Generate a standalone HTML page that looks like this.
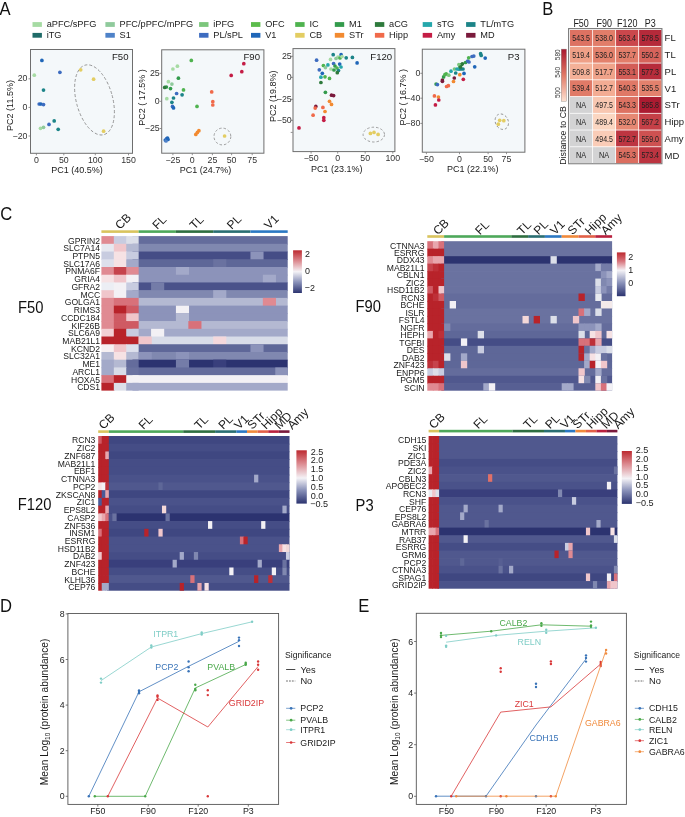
<!DOCTYPE html>
<html><head><meta charset="utf-8"><title>Figure</title>
<style>
html,body{margin:0;padding:0;background:#fff;}
svg{display:block;will-change:transform;}
svg text{font-family:"Liberation Sans", sans-serif;}
</style></head>
<body>
<svg width="685" height="817" viewBox="0 0 685 817" font-family='"Liberation Sans", sans-serif'>
<rect x="0" y="0" width="685" height="817" fill="#ffffff"/>
<text x="0" y="0" font-size="17.5" text-anchor="start" fill="#111" transform="translate(-0.60 14.90) scale(0.95 1)">A</text>
<text x="0" y="0" font-size="17.5" text-anchor="start" fill="#111" transform="translate(542.30 14.90) scale(0.95 1)">B</text>
<text x="0" y="0" font-size="17.5" text-anchor="start" fill="#111" transform="translate(0.20 220.00) scale(0.95 1)">C</text>
<text x="0" y="0" font-size="17.5" text-anchor="start" fill="#111" transform="translate(0.00 611.60) scale(0.95 1)">D</text>
<text x="0" y="0" font-size="17.5" text-anchor="start" fill="#111" transform="translate(358.30 611.60) scale(0.95 1)">E</text>
<rect x="32.50" y="22.10" width="9.40" height="4.80" fill="#a6dba3"/>
<text x="0" y="0" font-size="9.5" text-anchor="start" fill="#1a1a1a" transform="translate(46.70 26.80) scale(0.97 1)">aPFC/sPFG</text>
<rect x="105.40" y="22.10" width="9.40" height="4.80" fill="#8fca9c"/>
<text x="0" y="0" font-size="9.5" text-anchor="start" fill="#1a1a1a" transform="translate(119.60 26.80) scale(0.97 1)">PFC/pPFC/mPFG</text>
<rect x="199.10" y="22.10" width="9.40" height="4.80" fill="#7cc67c"/>
<text x="0" y="0" font-size="9.5" text-anchor="start" fill="#1a1a1a" transform="translate(213.30 26.80) scale(0.97 1)">iPFG</text>
<rect x="251.00" y="22.10" width="9.40" height="4.80" fill="#5cbc4c"/>
<text x="0" y="0" font-size="9.5" text-anchor="start" fill="#1a1a1a" transform="translate(265.20 26.80) scale(0.97 1)">OFC</text>
<rect x="295.20" y="22.10" width="9.40" height="4.80" fill="#4fb34f"/>
<text x="0" y="0" font-size="9.5" text-anchor="start" fill="#1a1a1a" transform="translate(309.40 26.80) scale(0.97 1)">IC</text>
<rect x="334.80" y="22.10" width="9.40" height="4.80" fill="#339b4c"/>
<text x="0" y="0" font-size="9.5" text-anchor="start" fill="#1a1a1a" transform="translate(349.00 26.80) scale(0.97 1)">M1</text>
<rect x="374.90" y="22.10" width="9.40" height="4.80" fill="#2e7a3c"/>
<text x="0" y="0" font-size="9.5" text-anchor="start" fill="#1a1a1a" transform="translate(389.10 26.80) scale(0.97 1)">aCG</text>
<rect x="422.70" y="22.10" width="9.40" height="4.80" fill="#25a7ab"/>
<text x="0" y="0" font-size="9.5" text-anchor="start" fill="#1a1a1a" transform="translate(436.90 26.80) scale(0.97 1)">sTG</text>
<rect x="466.10" y="22.10" width="9.40" height="4.80" fill="#1c8488"/>
<text x="0" y="0" font-size="9.5" text-anchor="start" fill="#1a1a1a" transform="translate(480.30 26.80) scale(0.97 1)">TL/mTG</text>
<rect x="32.50" y="32.90" width="9.40" height="4.80" fill="#1f6b68"/>
<text x="0" y="0" font-size="9.5" text-anchor="start" fill="#1a1a1a" transform="translate(46.70 37.60) scale(0.97 1)">iTG</text>
<rect x="105.40" y="32.90" width="9.40" height="4.80" fill="#4e82c8"/>
<text x="0" y="0" font-size="9.5" text-anchor="start" fill="#1a1a1a" transform="translate(119.60 37.60) scale(0.97 1)">S1</text>
<rect x="199.10" y="32.90" width="9.40" height="4.80" fill="#3d6cc0"/>
<text x="0" y="0" font-size="9.5" text-anchor="start" fill="#1a1a1a" transform="translate(213.30 37.60) scale(0.97 1)">PL/sPL</text>
<rect x="251.00" y="32.90" width="9.40" height="4.80" fill="#1f66b8"/>
<text x="0" y="0" font-size="9.5" text-anchor="start" fill="#1a1a1a" transform="translate(265.20 37.60) scale(0.97 1)">V1</text>
<rect x="295.20" y="32.90" width="9.40" height="4.80" fill="#e3cd62"/>
<text x="0" y="0" font-size="9.5" text-anchor="start" fill="#1a1a1a" transform="translate(309.40 37.60) scale(0.97 1)">CB</text>
<rect x="334.80" y="32.90" width="9.40" height="4.80" fill="#f28a30"/>
<text x="0" y="0" font-size="9.5" text-anchor="start" fill="#1a1a1a" transform="translate(349.00 37.60) scale(0.97 1)">STr</text>
<rect x="374.90" y="32.90" width="9.40" height="4.80" fill="#f06a4a"/>
<text x="0" y="0" font-size="9.5" text-anchor="start" fill="#1a1a1a" transform="translate(389.10 37.60) scale(0.97 1)">Hipp</text>
<rect x="422.70" y="32.90" width="9.40" height="4.80" fill="#c41d45"/>
<text x="0" y="0" font-size="9.5" text-anchor="start" fill="#1a1a1a" transform="translate(436.90 37.60) scale(0.97 1)">Amy</text>
<rect x="466.10" y="32.90" width="9.40" height="4.80" fill="#7a1a3c"/>
<text x="0" y="0" font-size="9.5" text-anchor="start" fill="#1a1a1a" transform="translate(480.30 37.60) scale(0.97 1)">MD</text>
<rect x="30.50" y="49.50" width="102.00" height="103.80" fill="#f4f8fa" stroke="#6e6e6e" stroke-width="1"/>
<text x="128.50" y="59.70" font-size="9.6" text-anchor="end" fill="#1a1a1a">F50</text>
<line x1="36.40" y1="153.30" x2="36.40" y2="155.30" stroke="#777" stroke-width="0.8"/>
<text x="36.40" y="162.80" font-size="8.8" text-anchor="middle" fill="#333">0</text>
<line x1="63.80" y1="153.30" x2="63.80" y2="155.30" stroke="#777" stroke-width="0.8"/>
<text x="63.80" y="162.80" font-size="8.8" text-anchor="middle" fill="#333">50</text>
<line x1="95.30" y1="153.30" x2="95.30" y2="155.30" stroke="#777" stroke-width="0.8"/>
<text x="95.30" y="162.80" font-size="8.8" text-anchor="middle" fill="#333">100</text>
<line x1="128.50" y1="153.30" x2="128.50" y2="155.30" stroke="#777" stroke-width="0.8"/>
<text x="128.50" y="162.80" font-size="8.8" text-anchor="middle" fill="#333">150</text>
<line x1="28.50" y1="78.80" x2="30.50" y2="78.80" stroke="#777" stroke-width="0.8"/>
<text x="27.50" y="81.40" font-size="8.8" text-anchor="end" fill="#333">20</text>
<line x1="28.50" y1="107.40" x2="30.50" y2="107.40" stroke="#777" stroke-width="0.8"/>
<text x="27.50" y="110.00" font-size="8.8" text-anchor="end" fill="#333">0</text>
<line x1="28.50" y1="136.00" x2="30.50" y2="136.00" stroke="#777" stroke-width="0.8"/>
<text x="27.50" y="138.60" font-size="8.8" text-anchor="end" fill="#333">−20</text>
<text x="77.00" y="173.30" font-size="9" text-anchor="middle" fill="#1a1a1a">PC1 (40.5%)</text>
<text x="13.30" y="105.50" font-size="9" text-anchor="middle" fill="#1a1a1a" transform="rotate(-90 13.30 105.50)">PC2 (11.5%)</text>
<ellipse cx="94.5" cy="99.9" rx="18.2" ry="36" fill="none" stroke="#888" stroke-width="0.8" stroke-dasharray="3,2" transform="rotate(-15 94.5 99.9)"/>
<circle cx="41.90" cy="60.40" r="1.85" fill="#1f66b8"/>
<circle cx="59.90" cy="72.30" r="1.85" fill="#3d6cc0"/>
<circle cx="34.30" cy="75.20" r="1.85" fill="#a6dba3"/>
<circle cx="43.50" cy="90.10" r="1.85" fill="#1c8488"/>
<circle cx="39.20" cy="104.00" r="1.85" fill="#3d6cc0"/>
<circle cx="40.90" cy="104.00" r="1.85" fill="#1f66b8"/>
<circle cx="43.50" cy="104.60" r="1.85" fill="#3d6cc0"/>
<circle cx="54.20" cy="120.90" r="1.85" fill="#1c8488"/>
<circle cx="49.00" cy="124.40" r="1.85" fill="#3d6cc0"/>
<circle cx="58.20" cy="129.30" r="1.85" fill="#1c8488"/>
<circle cx="40.50" cy="128.30" r="1.85" fill="#a6dba3"/>
<circle cx="43.50" cy="127.30" r="1.85" fill="#8fca9c"/>
<circle cx="80.70" cy="69.80" r="1.85" fill="#e3cd62"/>
<circle cx="93.60" cy="79.20" r="1.85" fill="#e3cd62"/>
<circle cx="103.60" cy="131.20" r="1.85" fill="#e3cd62"/>
<rect x="161.70" y="49.80" width="102.20" height="103.40" fill="#f4f8fa" stroke="#6e6e6e" stroke-width="1"/>
<text x="260.00" y="59.70" font-size="9.6" text-anchor="end" fill="#1a1a1a">F90</text>
<line x1="172.90" y1="153.20" x2="172.90" y2="155.20" stroke="#777" stroke-width="0.8"/>
<text x="172.90" y="162.70" font-size="8.8" text-anchor="middle" fill="#333">−25</text>
<line x1="192.30" y1="153.20" x2="192.30" y2="155.20" stroke="#777" stroke-width="0.8"/>
<text x="192.30" y="162.70" font-size="8.8" text-anchor="middle" fill="#333">0</text>
<line x1="212.40" y1="153.20" x2="212.40" y2="155.20" stroke="#777" stroke-width="0.8"/>
<text x="212.40" y="162.70" font-size="8.8" text-anchor="middle" fill="#333">25</text>
<line x1="231.60" y1="153.20" x2="231.60" y2="155.20" stroke="#777" stroke-width="0.8"/>
<text x="231.60" y="162.70" font-size="8.8" text-anchor="middle" fill="#333">50</text>
<line x1="252.20" y1="153.20" x2="252.20" y2="155.20" stroke="#777" stroke-width="0.8"/>
<text x="252.20" y="162.70" font-size="8.8" text-anchor="middle" fill="#333">75</text>
<line x1="159.70" y1="73.30" x2="161.70" y2="73.30" stroke="#777" stroke-width="0.8"/>
<text x="159.70" y="75.90" font-size="8.8" text-anchor="end" fill="#333">25</text>
<line x1="159.70" y1="101.30" x2="161.70" y2="101.30" stroke="#777" stroke-width="0.8"/>
<text x="159.70" y="103.90" font-size="8.8" text-anchor="end" fill="#333">0</text>
<line x1="159.70" y1="128.50" x2="161.70" y2="128.50" stroke="#777" stroke-width="0.8"/>
<text x="159.70" y="131.10" font-size="8.8" text-anchor="end" fill="#333">−25</text>
<text x="205.60" y="173.20" font-size="9" text-anchor="middle" fill="#1a1a1a">PC1 (24.7%)</text>
<text x="145.50" y="97.40" font-size="9" text-anchor="middle" fill="#1a1a1a" transform="rotate(-90 145.50 97.40)">PC2 ( 17.5% )</text>
<circle cx="222.4" cy="136.5" r="8.4" fill="none" stroke="#888" stroke-width="0.8" stroke-dasharray="2.5,2"/>
<circle cx="191.30" cy="60.40" r="1.85" fill="#4fb34f"/>
<circle cx="177.40" cy="66.20" r="1.85" fill="#a6dba3"/>
<circle cx="172.90" cy="69.00" r="1.85" fill="#a6dba3"/>
<circle cx="178.40" cy="78.20" r="1.85" fill="#339b4c"/>
<circle cx="168.40" cy="81.70" r="1.85" fill="#a6dba3"/>
<circle cx="171.90" cy="84.10" r="1.85" fill="#8fca9c"/>
<circle cx="166.40" cy="87.00" r="1.85" fill="#339b4c"/>
<circle cx="164.70" cy="87.40" r="1.85" fill="#2e7a3c"/>
<circle cx="170.50" cy="88.60" r="1.85" fill="#339b4c"/>
<circle cx="183.50" cy="89.90" r="1.85" fill="#4fb34f"/>
<circle cx="176.60" cy="93.50" r="1.85" fill="#3d6cc0"/>
<circle cx="182.10" cy="94.80" r="1.85" fill="#1c8488"/>
<circle cx="173.50" cy="98.00" r="1.85" fill="#1c8488"/>
<circle cx="166.80" cy="98.70" r="1.85" fill="#a6dba3"/>
<circle cx="171.90" cy="102.30" r="1.85" fill="#1c8488"/>
<circle cx="172.50" cy="106.40" r="1.85" fill="#3d6cc0"/>
<circle cx="173.50" cy="107.90" r="1.85" fill="#1f66b8"/>
<circle cx="197.00" cy="106.40" r="1.85" fill="#4fb34f"/>
<circle cx="211.70" cy="91.90" r="1.85" fill="#f06a4a"/>
<circle cx="212.80" cy="101.70" r="1.85" fill="#f06a4a"/>
<circle cx="212.80" cy="105.00" r="1.85" fill="#f06a4a"/>
<circle cx="231.20" cy="75.40" r="1.85" fill="#c41d45"/>
<circle cx="241.80" cy="71.70" r="1.85" fill="#c41d45"/>
<circle cx="243.80" cy="63.70" r="1.85" fill="#c41d45"/>
<circle cx="195.80" cy="134.40" r="1.85" fill="#f28a30"/>
<circle cx="197.40" cy="132.40" r="1.85" fill="#f28a30"/>
<circle cx="198.90" cy="130.70" r="1.85" fill="#f28a30"/>
<circle cx="224.60" cy="136.00" r="1.85" fill="#e3cd62"/>
<circle cx="165.30" cy="140.10" r="1.85" fill="#1f66b8"/>
<circle cx="166.70" cy="138.70" r="1.85" fill="#3d6cc0"/>
<circle cx="168.00" cy="139.50" r="1.85" fill="#1f66b8"/>
<circle cx="166.00" cy="141.00" r="1.85" fill="#4e82c8"/>
<circle cx="167.50" cy="138.00" r="1.85" fill="#1f66b8"/>
<rect x="293.00" y="48.60" width="101.90" height="103.00" fill="#f4f8fa" stroke="#6e6e6e" stroke-width="1"/>
<text x="392.20" y="59.70" font-size="9.6" text-anchor="end" fill="#1a1a1a">F120</text>
<line x1="311.10" y1="151.60" x2="311.10" y2="153.60" stroke="#777" stroke-width="0.8"/>
<text x="311.10" y="161.10" font-size="8.8" text-anchor="middle" fill="#333">−50</text>
<line x1="337.70" y1="151.60" x2="337.70" y2="153.60" stroke="#777" stroke-width="0.8"/>
<text x="337.70" y="161.10" font-size="8.8" text-anchor="middle" fill="#333">0</text>
<line x1="365.20" y1="151.60" x2="365.20" y2="153.60" stroke="#777" stroke-width="0.8"/>
<text x="365.20" y="161.10" font-size="8.8" text-anchor="middle" fill="#333">50</text>
<line x1="392.80" y1="151.60" x2="392.80" y2="153.60" stroke="#777" stroke-width="0.8"/>
<text x="392.80" y="161.10" font-size="8.8" text-anchor="middle" fill="#333">100</text>
<line x1="291.00" y1="56.30" x2="293.00" y2="56.30" stroke="#777" stroke-width="0.8"/>
<text x="291.70" y="58.90" font-size="8.8" text-anchor="end" fill="#333">25</text>
<line x1="291.00" y1="77.40" x2="293.00" y2="77.40" stroke="#777" stroke-width="0.8"/>
<text x="291.70" y="80.00" font-size="8.8" text-anchor="end" fill="#333">0</text>
<line x1="291.00" y1="99.30" x2="293.00" y2="99.30" stroke="#777" stroke-width="0.8"/>
<text x="291.70" y="101.90" font-size="8.8" text-anchor="end" fill="#333">−25</text>
<line x1="291.00" y1="120.30" x2="293.00" y2="120.30" stroke="#777" stroke-width="0.8"/>
<text x="291.70" y="122.90" font-size="8.8" text-anchor="end" fill="#333">−50</text>
<text x="336.80" y="171.60" font-size="9" text-anchor="middle" fill="#1a1a1a">PC1 (23.1%)</text>
<text x="276.50" y="96.20" font-size="9" text-anchor="middle" fill="#1a1a1a" transform="rotate(-90 276.50 96.20)">PC2 (19.8%)</text>
<line x1="290.70" y1="132.40" x2="292.70" y2="132.40" stroke="#777" stroke-width="0.8"/>
<ellipse cx="373.8" cy="134.6" rx="10.7" ry="7.4" fill="none" stroke="#888" stroke-width="0.8" stroke-dasharray="2.5,2"/>
<circle cx="333.20" cy="54.70" r="1.85" fill="#1c8488"/>
<circle cx="341.10" cy="54.70" r="1.85" fill="#1f66b8"/>
<circle cx="338.00" cy="57.00" r="1.85" fill="#a6dba3"/>
<circle cx="340.00" cy="58.00" r="1.85" fill="#4fb34f"/>
<circle cx="342.00" cy="56.50" r="1.85" fill="#a6dba3"/>
<circle cx="336.00" cy="58.50" r="1.85" fill="#8fca9c"/>
<circle cx="346.20" cy="57.80" r="1.85" fill="#1c8488"/>
<circle cx="352.40" cy="57.40" r="1.85" fill="#1c8488"/>
<circle cx="316.60" cy="60.20" r="1.85" fill="#3d6cc0"/>
<circle cx="357.10" cy="62.90" r="1.85" fill="#1f66b8"/>
<circle cx="330.50" cy="59.40" r="1.85" fill="#a6dba3"/>
<circle cx="323.40" cy="65.50" r="1.85" fill="#4fb34f"/>
<circle cx="325.40" cy="67.60" r="1.85" fill="#8fca9c"/>
<circle cx="327.90" cy="64.90" r="1.85" fill="#25a7ab"/>
<circle cx="333.60" cy="63.50" r="1.85" fill="#3d6cc0"/>
<circle cx="339.70" cy="64.10" r="1.85" fill="#1f66b8"/>
<circle cx="335.00" cy="66.00" r="1.85" fill="#339b4c"/>
<circle cx="337.00" cy="68.00" r="1.85" fill="#4fb34f"/>
<circle cx="341.00" cy="67.00" r="1.85" fill="#25a7ab"/>
<circle cx="331.00" cy="69.00" r="1.85" fill="#a6dba3"/>
<circle cx="334.00" cy="70.00" r="1.85" fill="#339b4c"/>
<circle cx="338.50" cy="70.50" r="1.85" fill="#1c8488"/>
<circle cx="319.30" cy="69.80" r="1.85" fill="#3d6cc0"/>
<circle cx="322.30" cy="73.30" r="1.85" fill="#1f66b8"/>
<circle cx="320.90" cy="77.20" r="1.85" fill="#25a7ab"/>
<circle cx="325.00" cy="76.80" r="1.85" fill="#4fb34f"/>
<circle cx="329.50" cy="78.40" r="1.85" fill="#4fb34f"/>
<circle cx="320.90" cy="82.50" r="1.85" fill="#2e7a3c"/>
<circle cx="337.30" cy="72.70" r="1.85" fill="#2e7a3c"/>
<circle cx="325.40" cy="92.30" r="1.85" fill="#339b4c"/>
<circle cx="331.50" cy="95.20" r="1.85" fill="#7a1a3c"/>
<circle cx="333.60" cy="95.60" r="1.85" fill="#7a1a3c"/>
<circle cx="329.50" cy="101.30" r="1.85" fill="#f28a30"/>
<circle cx="331.50" cy="104.40" r="1.85" fill="#f28a30"/>
<circle cx="315.80" cy="106.40" r="1.85" fill="#7a1a3c"/>
<circle cx="315.20" cy="108.10" r="1.85" fill="#f06a4a"/>
<circle cx="322.90" cy="107.40" r="1.85" fill="#f06a4a"/>
<circle cx="325.00" cy="111.50" r="1.85" fill="#f28a30"/>
<circle cx="313.10" cy="115.20" r="1.85" fill="#f06a4a"/>
<circle cx="323.80" cy="117.70" r="1.85" fill="#c41d45"/>
<circle cx="323.80" cy="120.30" r="1.85" fill="#c41d45"/>
<circle cx="299.00" cy="127.90" r="1.85" fill="#c41d45"/>
<circle cx="370.40" cy="133.40" r="1.85" fill="#e3cd62"/>
<circle cx="374.00" cy="132.40" r="1.85" fill="#e3cd62"/>
<circle cx="378.10" cy="134.40" r="1.85" fill="#e3cd62"/>
<rect x="422.30" y="49.20" width="102.60" height="103.00" fill="#f4f8fa" stroke="#6e6e6e" stroke-width="1"/>
<text x="519.50" y="59.70" font-size="9.6" text-anchor="end" fill="#1a1a1a">P3</text>
<line x1="426.40" y1="152.20" x2="426.40" y2="154.20" stroke="#777" stroke-width="0.8"/>
<text x="426.40" y="161.70" font-size="8.8" text-anchor="middle" fill="#333">−50</text>
<line x1="459.50" y1="152.20" x2="459.50" y2="154.20" stroke="#777" stroke-width="0.8"/>
<text x="459.50" y="161.70" font-size="8.8" text-anchor="middle" fill="#333">0</text>
<line x1="488.10" y1="152.20" x2="488.10" y2="154.20" stroke="#777" stroke-width="0.8"/>
<text x="488.10" y="161.70" font-size="8.8" text-anchor="middle" fill="#333">50</text>
<line x1="506.50" y1="152.20" x2="506.50" y2="154.20" stroke="#777" stroke-width="0.8"/>
<text x="506.50" y="161.70" font-size="8.8" text-anchor="middle" fill="#333">75</text>
<line x1="420.30" y1="73.30" x2="422.30" y2="73.30" stroke="#777" stroke-width="0.8"/>
<text x="420.30" y="75.90" font-size="8.8" text-anchor="end" fill="#333">0</text>
<line x1="420.30" y1="98.20" x2="422.30" y2="98.20" stroke="#777" stroke-width="0.8"/>
<text x="420.30" y="100.80" font-size="8.8" text-anchor="end" fill="#333">−40</text>
<line x1="420.30" y1="123.40" x2="422.30" y2="123.40" stroke="#777" stroke-width="0.8"/>
<text x="420.30" y="126.00" font-size="8.8" text-anchor="end" fill="#333">−80</text>
<text x="472.70" y="172.20" font-size="9" text-anchor="middle" fill="#1a1a1a">PC1 (22.1%)</text>
<text x="406.50" y="97.20" font-size="9" text-anchor="middle" fill="#1a1a1a" transform="rotate(-90 406.50 97.20)">PC2 ( 16.7% )</text>
<ellipse cx="501.8" cy="121.7" rx="6.4" ry="8" fill="none" stroke="#888" stroke-width="0.8" stroke-dasharray="2.5,2" transform="rotate(-25 501.8 121.7)"/>
<circle cx="436.10" cy="84.10" r="1.85" fill="#339b4c"/>
<circle cx="437.40" cy="84.60" r="1.85" fill="#3d6cc0"/>
<circle cx="442.40" cy="80.00" r="1.85" fill="#7a1a3c"/>
<circle cx="442.40" cy="81.30" r="1.85" fill="#7a1a3c"/>
<circle cx="443.60" cy="76.90" r="1.85" fill="#339b4c"/>
<circle cx="444.90" cy="74.70" r="1.85" fill="#4fb34f"/>
<circle cx="446.20" cy="73.80" r="1.85" fill="#4fb34f"/>
<circle cx="448.80" cy="75.20" r="1.85" fill="#7cc67c"/>
<circle cx="446.60" cy="86.50" r="1.85" fill="#f06a4a"/>
<circle cx="448.40" cy="85.70" r="1.85" fill="#f06a4a"/>
<circle cx="451.00" cy="71.20" r="1.85" fill="#25a7ab"/>
<circle cx="454.30" cy="78.00" r="1.85" fill="#7a1a3c"/>
<circle cx="453.50" cy="81.50" r="1.85" fill="#f28a30"/>
<circle cx="455.70" cy="73.00" r="1.85" fill="#1c8488"/>
<circle cx="454.50" cy="69.00" r="1.85" fill="#7cc67c"/>
<circle cx="457.00" cy="69.00" r="1.85" fill="#25a7ab"/>
<circle cx="459.00" cy="69.20" r="1.85" fill="#25a7ab"/>
<circle cx="461.00" cy="69.00" r="1.85" fill="#1c8488"/>
<circle cx="463.00" cy="69.00" r="1.85" fill="#1c8488"/>
<circle cx="459.80" cy="74.70" r="1.85" fill="#f28a30"/>
<circle cx="464.00" cy="73.40" r="1.85" fill="#1f66b8"/>
<circle cx="463.30" cy="79.30" r="1.85" fill="#c41d45"/>
<circle cx="460.00" cy="66.50" r="1.85" fill="#339b4c"/>
<circle cx="461.50" cy="64.50" r="1.85" fill="#2e7a3c"/>
<circle cx="462.40" cy="63.80" r="1.85" fill="#2e7a3c"/>
<circle cx="458.90" cy="64.60" r="1.85" fill="#7cc67c"/>
<circle cx="460.50" cy="67.00" r="1.85" fill="#2e7a3c"/>
<circle cx="465.50" cy="62.50" r="1.85" fill="#339b4c"/>
<circle cx="467.70" cy="61.10" r="1.85" fill="#3d6cc0"/>
<circle cx="469.00" cy="62.00" r="1.85" fill="#3d6cc0"/>
<circle cx="468.70" cy="57.80" r="1.85" fill="#4fb34f"/>
<circle cx="472.00" cy="56.50" r="1.85" fill="#3d6cc0"/>
<circle cx="473.80" cy="56.10" r="1.85" fill="#3d6cc0"/>
<circle cx="474.70" cy="66.80" r="1.85" fill="#1f66b8"/>
<circle cx="480.60" cy="53.70" r="1.85" fill="#1c8488"/>
<circle cx="481.20" cy="55.40" r="1.85" fill="#1c8488"/>
<circle cx="485.20" cy="58.10" r="1.85" fill="#1f66b8"/>
<circle cx="434.40" cy="95.90" r="1.85" fill="#f06a4a"/>
<circle cx="438.40" cy="97.00" r="1.85" fill="#f28a30"/>
<circle cx="438.80" cy="100.00" r="1.85" fill="#c41d45"/>
<circle cx="435.40" cy="104.90" r="1.85" fill="#c41d45"/>
<circle cx="499.70" cy="120.30" r="1.85" fill="#e3cd62"/>
<circle cx="503.80" cy="120.70" r="1.85" fill="#e3cd62"/>
<circle cx="498.30" cy="124.20" r="1.85" fill="#e3cd62"/>
<rect x="568.60" y="28.60" width="93.32" height="135.12" fill="#ffffff" stroke="#7a7a7a" stroke-width="1.1"/>
<rect x="570.00" y="30.00" width="22.23" height="15.94" fill="#dd7262"/>
<text x="0" y="0" font-size="9.0" text-anchor="middle" fill="#222" transform="translate(581.12 41.17) scale(0.78 1)">543.5</text>
<rect x="593.03" y="30.00" width="22.23" height="15.94" fill="#e17d69"/>
<text x="0" y="0" font-size="9.0" text-anchor="middle" fill="#222" transform="translate(604.14 41.17) scale(0.78 1)">538.0</text>
<rect x="616.06" y="30.00" width="22.23" height="15.94" fill="#ca474c"/>
<text x="0" y="0" font-size="9.0" text-anchor="middle" fill="#222" transform="translate(627.18 41.17) scale(0.78 1)">563.4</text>
<rect x="639.09" y="30.00" width="22.23" height="15.94" fill="#b52a3a"/>
<text x="0" y="0" font-size="9.0" text-anchor="middle" fill="#222" transform="translate(650.21 41.17) scale(0.78 1)">578.5</text>
<rect x="570.00" y="46.74" width="22.23" height="15.94" fill="#efa087"/>
<text x="0" y="0" font-size="9.0" text-anchor="middle" fill="#222" transform="translate(581.12 57.91) scale(0.78 1)">519.4</text>
<rect x="593.03" y="46.74" width="22.23" height="15.94" fill="#e3816c"/>
<text x="0" y="0" font-size="9.0" text-anchor="middle" fill="#222" transform="translate(604.14 57.91) scale(0.78 1)">536.0</text>
<rect x="616.06" y="46.74" width="22.23" height="15.94" fill="#e27d6a"/>
<text x="0" y="0" font-size="9.0" text-anchor="middle" fill="#222" transform="translate(627.18 57.91) scale(0.78 1)">537.7</text>
<rect x="639.09" y="46.74" width="22.23" height="15.94" fill="#d6635b"/>
<text x="0" y="0" font-size="9.0" text-anchor="middle" fill="#222" transform="translate(650.21 57.91) scale(0.78 1)">550.2</text>
<rect x="570.00" y="63.48" width="22.23" height="15.94" fill="#f4b198"/>
<text x="0" y="0" font-size="9.0" text-anchor="middle" fill="#222" transform="translate(581.12 74.65) scale(0.78 1)">509.8</text>
<rect x="593.03" y="63.48" width="22.23" height="15.94" fill="#f0a38a"/>
<text x="0" y="0" font-size="9.0" text-anchor="middle" fill="#222" transform="translate(604.14 74.65) scale(0.78 1)">517.7</text>
<rect x="616.06" y="63.48" width="22.23" height="15.94" fill="#d35d57"/>
<text x="0" y="0" font-size="9.0" text-anchor="middle" fill="#222" transform="translate(627.18 74.65) scale(0.78 1)">553.1</text>
<rect x="639.09" y="63.48" width="22.23" height="15.94" fill="#b72c3b"/>
<text x="0" y="0" font-size="9.0" text-anchor="middle" fill="#222" transform="translate(650.21 74.65) scale(0.78 1)">577.3</text>
<rect x="570.00" y="80.22" width="22.23" height="15.94" fill="#e07a67"/>
<text x="0" y="0" font-size="9.0" text-anchor="middle" fill="#222" transform="translate(581.12 91.39) scale(0.78 1)">539.4</text>
<rect x="593.03" y="80.22" width="22.23" height="15.94" fill="#f3ac93"/>
<text x="0" y="0" font-size="9.0" text-anchor="middle" fill="#222" transform="translate(604.14 91.39) scale(0.78 1)">512.7</text>
<rect x="616.06" y="80.22" width="22.23" height="15.94" fill="#e07866"/>
<text x="0" y="0" font-size="9.0" text-anchor="middle" fill="#222" transform="translate(627.18 91.39) scale(0.78 1)">540.3</text>
<rect x="639.09" y="80.22" width="22.23" height="15.94" fill="#e3816d"/>
<text x="0" y="0" font-size="9.0" text-anchor="middle" fill="#222" transform="translate(650.21 91.39) scale(0.78 1)">535.5</text>
<rect x="570.00" y="96.96" width="22.23" height="15.94" fill="#d3d3d4"/>
<text x="0" y="0" font-size="8.6" text-anchor="middle" fill="#222" transform="translate(581.12 108.13) scale(0.85 1)">NA</text>
<rect x="593.03" y="96.96" width="22.23" height="15.94" fill="#f8c7b1"/>
<text x="0" y="0" font-size="9.0" text-anchor="middle" fill="#222" transform="translate(604.14 108.13) scale(0.78 1)">497.5</text>
<rect x="616.06" y="96.96" width="22.23" height="15.94" fill="#dd7262"/>
<text x="0" y="0" font-size="9.0" text-anchor="middle" fill="#222" transform="translate(627.18 108.13) scale(0.78 1)">543.3</text>
<rect x="639.09" y="96.96" width="22.23" height="15.94" fill="#ab1b31"/>
<text x="0" y="0" font-size="9.0" text-anchor="middle" fill="#222" transform="translate(650.21 108.13) scale(0.78 1)">585.8</text>
<rect x="570.00" y="113.70" width="22.23" height="15.94" fill="#d3d3d4"/>
<text x="0" y="0" font-size="8.6" text-anchor="middle" fill="#222" transform="translate(581.12 124.87) scale(0.85 1)">NA</text>
<rect x="593.03" y="113.70" width="22.23" height="15.94" fill="#fbd6c1"/>
<text x="0" y="0" font-size="9.0" text-anchor="middle" fill="#222" transform="translate(604.14 124.87) scale(0.78 1)">489.4</text>
<rect x="616.06" y="113.70" width="22.23" height="15.94" fill="#e68873"/>
<text x="0" y="0" font-size="9.0" text-anchor="middle" fill="#222" transform="translate(627.18 124.87) scale(0.78 1)">532.0</text>
<rect x="639.09" y="113.70" width="22.23" height="15.94" fill="#c54047"/>
<text x="0" y="0" font-size="9.0" text-anchor="middle" fill="#222" transform="translate(650.21 124.87) scale(0.78 1)">567.2</text>
<rect x="570.00" y="130.44" width="22.23" height="15.94" fill="#d3d3d4"/>
<text x="0" y="0" font-size="8.6" text-anchor="middle" fill="#222" transform="translate(581.12 141.61) scale(0.85 1)">NA</text>
<rect x="593.03" y="130.44" width="22.23" height="15.94" fill="#faccb7"/>
<text x="0" y="0" font-size="9.0" text-anchor="middle" fill="#222" transform="translate(604.14 141.61) scale(0.78 1)">494.5</text>
<rect x="616.06" y="130.44" width="22.23" height="15.94" fill="#bd3541"/>
<text x="0" y="0" font-size="9.0" text-anchor="middle" fill="#222" transform="translate(627.18 141.61) scale(0.78 1)">572.7</text>
<rect x="639.09" y="130.44" width="22.23" height="15.94" fill="#ce5151"/>
<text x="0" y="0" font-size="9.0" text-anchor="middle" fill="#222" transform="translate(650.21 141.61) scale(0.78 1)">559.0</text>
<rect x="570.00" y="147.18" width="22.23" height="15.94" fill="#d3d3d4"/>
<text x="0" y="0" font-size="8.6" text-anchor="middle" fill="#222" transform="translate(581.12 158.35) scale(0.85 1)">NA</text>
<rect x="593.03" y="147.18" width="22.23" height="15.94" fill="#d3d3d4"/>
<text x="0" y="0" font-size="8.6" text-anchor="middle" fill="#222" transform="translate(604.14 158.35) scale(0.85 1)">NA</text>
<rect x="616.06" y="147.18" width="22.23" height="15.94" fill="#db6e60"/>
<text x="0" y="0" font-size="9.0" text-anchor="middle" fill="#222" transform="translate(627.18 158.35) scale(0.78 1)">545.3</text>
<rect x="639.09" y="147.18" width="22.23" height="15.94" fill="#bc3440"/>
<text x="0" y="0" font-size="9.0" text-anchor="middle" fill="#222" transform="translate(650.21 158.35) scale(0.78 1)">573.4</text>
<text x="0" y="0" font-size="10.2" text-anchor="middle" fill="#1a1a1a" transform="translate(581.12 26.80) scale(0.88 1)">F50</text>
<text x="0" y="0" font-size="10.2" text-anchor="middle" fill="#1a1a1a" transform="translate(604.14 26.80) scale(0.88 1)">F90</text>
<text x="0" y="0" font-size="10.2" text-anchor="middle" fill="#1a1a1a" transform="translate(627.18 26.80) scale(0.88 1)">F120</text>
<text x="0" y="0" font-size="10.2" text-anchor="middle" fill="#1a1a1a" transform="translate(650.21 26.80) scale(0.88 1)">P3</text>
<text x="664.60" y="41.37" font-size="9.5" text-anchor="start" fill="#1a1a1a">FL</text>
<text x="664.60" y="58.11" font-size="9.5" text-anchor="start" fill="#1a1a1a">TL</text>
<text x="664.60" y="74.85" font-size="9.5" text-anchor="start" fill="#1a1a1a">PL</text>
<text x="664.60" y="91.59" font-size="9.5" text-anchor="start" fill="#1a1a1a">V1</text>
<text x="664.60" y="108.33" font-size="9.5" text-anchor="start" fill="#1a1a1a">STr</text>
<text x="664.60" y="125.07" font-size="9.5" text-anchor="start" fill="#1a1a1a">Hipp</text>
<text x="664.60" y="141.81" font-size="9.5" text-anchor="start" fill="#1a1a1a">Amy</text>
<text x="664.60" y="158.55" font-size="9.5" text-anchor="start" fill="#1a1a1a">MD</text>
<defs><linearGradient id="gB" x1="0" y1="0" x2="0" y2="1"><stop offset="0" stop-color="#a8172e"/><stop offset="0.5" stop-color="#e07966"/><stop offset="1" stop-color="#fde0d0"/></linearGradient></defs>
<rect x="561.20" y="49.10" width="5.30" height="52.30" fill="url(#gB)" stroke="#8a8a8a" stroke-width="0.4"/>
<text x="559.70" y="54.80" font-size="6.5" text-anchor="middle" fill="#333" transform="rotate(-90 559.70 54.80)">580</text>
<line x1="560.20" y1="54.80" x2="561.20" y2="54.80" stroke="#666" stroke-width="0.5"/>
<text x="559.70" y="72.40" font-size="6.5" text-anchor="middle" fill="#333" transform="rotate(-90 559.70 72.40)">540</text>
<line x1="560.20" y1="72.40" x2="561.20" y2="72.40" stroke="#666" stroke-width="0.5"/>
<text x="559.70" y="92.60" font-size="6.5" text-anchor="middle" fill="#333" transform="rotate(-90 559.70 92.60)">500</text>
<line x1="560.20" y1="92.60" x2="561.20" y2="92.60" stroke="#666" stroke-width="0.5"/>
<text x="565.60" y="135.40" font-size="8.8" text-anchor="middle" fill="#1a1a1a" transform="rotate(-90 565.60 135.40)">Distance to CB</text>
<rect x="132.45" y="236.10" width="155.25" height="8.43" fill="#646c9c"/>
<rect x="101.40" y="236.10" width="13.12" height="8.43" fill="#e08a92"/>
<rect x="113.82" y="236.10" width="13.12" height="8.43" fill="#c8cce0"/>
<rect x="126.24" y="236.10" width="12.42" height="8.43" fill="#dcdfe9"/>
<rect x="132.45" y="243.82" width="155.25" height="8.43" fill="#8088b0"/>
<rect x="101.40" y="243.82" width="13.12" height="8.43" fill="#e6e8f0"/>
<rect x="113.82" y="243.82" width="13.12" height="8.43" fill="#f0c6cb"/>
<rect x="126.24" y="243.82" width="12.42" height="8.43" fill="#b4b9d2"/>
<rect x="132.45" y="251.55" width="155.25" height="8.43" fill="#454d86"/>
<rect x="101.40" y="251.55" width="13.12" height="8.43" fill="#c8cce0"/>
<rect x="113.82" y="251.55" width="13.12" height="8.43" fill="#f6e2e4"/>
<rect x="126.24" y="251.55" width="12.42" height="8.43" fill="#c8cce0"/>
<rect x="250.44" y="251.55" width="13.12" height="8.43" fill="#8c93ba"/>
<rect x="132.45" y="259.27" width="155.25" height="8.43" fill="#5e6798"/>
<rect x="101.40" y="259.27" width="13.12" height="8.43" fill="#dde0ec"/>
<rect x="113.82" y="259.27" width="13.12" height="8.43" fill="#f6e2e4"/>
<rect x="126.24" y="259.27" width="12.42" height="8.43" fill="#a3a9c9"/>
<rect x="213.18" y="259.27" width="13.12" height="8.43" fill="#6a72a0"/>
<rect x="132.45" y="267.00" width="155.25" height="8.43" fill="#8c93ba"/>
<rect x="101.40" y="267.00" width="13.12" height="8.43" fill="#e08a92"/>
<rect x="113.82" y="267.00" width="13.12" height="8.43" fill="#c6434c"/>
<rect x="126.24" y="267.00" width="12.42" height="8.43" fill="#e08a92"/>
<rect x="175.92" y="267.00" width="13.12" height="8.43" fill="#a3a9c9"/>
<rect x="132.45" y="274.73" width="155.25" height="8.43" fill="#8c93ba"/>
<rect x="101.40" y="274.73" width="13.12" height="8.43" fill="#f6e2e4"/>
<rect x="113.82" y="274.73" width="13.12" height="8.43" fill="#f0c6cb"/>
<rect x="126.24" y="274.73" width="12.42" height="8.43" fill="#f3f1f5"/>
<rect x="262.86" y="274.73" width="13.12" height="8.43" fill="#a3a9c9"/>
<rect x="132.45" y="282.45" width="155.25" height="8.43" fill="#4a528a"/>
<rect x="101.40" y="282.45" width="13.12" height="8.43" fill="#eceef4"/>
<rect x="113.82" y="282.45" width="13.12" height="8.43" fill="#f3f1f5"/>
<rect x="126.24" y="282.45" width="12.42" height="8.43" fill="#c8cce0"/>
<rect x="151.08" y="282.45" width="13.12" height="8.43" fill="#747ca8"/>
<rect x="132.45" y="290.18" width="155.25" height="8.43" fill="#8088b0"/>
<rect x="101.40" y="290.18" width="13.12" height="8.43" fill="#f0c6cb"/>
<rect x="113.82" y="290.18" width="13.12" height="8.43" fill="#f3f1f5"/>
<rect x="126.24" y="290.18" width="12.42" height="8.43" fill="#a3a9c9"/>
<rect x="213.18" y="290.18" width="13.12" height="8.43" fill="#a3a9c9"/>
<rect x="132.45" y="297.90" width="155.25" height="8.43" fill="#b4b9d2"/>
<rect x="101.40" y="297.90" width="13.12" height="8.43" fill="#e08a92"/>
<rect x="113.82" y="297.90" width="13.12" height="8.43" fill="#d8717a"/>
<rect x="126.24" y="297.90" width="12.42" height="8.43" fill="#d8717a"/>
<rect x="262.86" y="297.90" width="13.12" height="8.43" fill="#e08a92"/>
<rect x="132.45" y="305.62" width="155.25" height="8.43" fill="#8c93ba"/>
<rect x="101.40" y="305.62" width="13.12" height="8.43" fill="#e08a92"/>
<rect x="113.82" y="305.62" width="13.12" height="8.43" fill="#b8232a"/>
<rect x="126.24" y="305.62" width="12.42" height="8.43" fill="#cf5a63"/>
<rect x="175.92" y="305.62" width="13.12" height="8.43" fill="#f3f1f5"/>
<rect x="132.45" y="313.35" width="155.25" height="8.43" fill="#8c93ba"/>
<rect x="101.40" y="313.35" width="13.12" height="8.43" fill="#e08a92"/>
<rect x="113.82" y="313.35" width="13.12" height="8.43" fill="#cf5a63"/>
<rect x="126.24" y="313.35" width="12.42" height="8.43" fill="#f0c6cb"/>
<rect x="175.92" y="313.35" width="13.12" height="8.43" fill="#b4b9d2"/>
<rect x="132.45" y="321.08" width="155.25" height="8.43" fill="#b4b9d2"/>
<rect x="101.40" y="321.08" width="13.12" height="8.43" fill="#e08a92"/>
<rect x="113.82" y="321.08" width="13.12" height="8.43" fill="#cf5a63"/>
<rect x="126.24" y="321.08" width="12.42" height="8.43" fill="#cf5a63"/>
<rect x="188.34" y="321.08" width="13.12" height="8.43" fill="#d8717a"/>
<rect x="132.45" y="328.80" width="155.25" height="8.43" fill="#a3a9c9"/>
<rect x="101.40" y="328.80" width="13.12" height="8.43" fill="#f2d0d4"/>
<rect x="113.82" y="328.80" width="13.12" height="8.43" fill="#b8232a"/>
<rect x="126.24" y="328.80" width="12.42" height="8.43" fill="#c8cce0"/>
<rect x="151.08" y="328.80" width="13.12" height="8.43" fill="#f3f1f5"/>
<rect x="132.45" y="336.52" width="155.25" height="8.43" fill="#d8dce8"/>
<rect x="101.40" y="336.52" width="13.12" height="8.43" fill="#b8232a"/>
<rect x="113.82" y="336.52" width="13.12" height="8.43" fill="#b8232a"/>
<rect x="126.24" y="336.52" width="12.42" height="8.43" fill="#b8232a"/>
<rect x="138.66" y="336.52" width="13.12" height="8.43" fill="#f0c6cb"/>
<rect x="213.18" y="336.52" width="13.12" height="8.43" fill="#f4d8dc"/>
<rect x="132.45" y="344.25" width="155.25" height="8.43" fill="#5e6798"/>
<rect x="101.40" y="344.25" width="13.12" height="8.43" fill="#f6f0f2"/>
<rect x="113.82" y="344.25" width="13.12" height="8.43" fill="#f0c6cb"/>
<rect x="126.24" y="344.25" width="12.42" height="8.43" fill="#dde0ec"/>
<rect x="250.44" y="344.25" width="13.12" height="8.43" fill="#8c93ba"/>
<rect x="132.45" y="351.98" width="155.25" height="8.43" fill="#8088b0"/>
<rect x="101.40" y="351.98" width="13.12" height="8.43" fill="#b4b9d2"/>
<rect x="113.82" y="351.98" width="13.12" height="8.43" fill="#f6e2e4"/>
<rect x="126.24" y="351.98" width="12.42" height="8.43" fill="#b4b9d2"/>
<rect x="138.66" y="351.98" width="13.12" height="8.43" fill="#8c93ba"/>
<rect x="175.92" y="351.98" width="13.12" height="8.43" fill="#8c93ba"/>
<rect x="132.45" y="359.70" width="155.25" height="8.43" fill="#2c3370"/>
<rect x="101.40" y="359.70" width="13.12" height="8.43" fill="#a3a9c9"/>
<rect x="113.82" y="359.70" width="13.12" height="8.43" fill="#b4b9d2"/>
<rect x="126.24" y="359.70" width="12.42" height="8.43" fill="#646c9c"/>
<rect x="175.92" y="359.70" width="13.12" height="8.43" fill="#747ca8"/>
<rect x="213.18" y="359.70" width="13.12" height="8.43" fill="#393f7c"/>
<rect x="132.45" y="367.43" width="155.25" height="8.43" fill="#646c9c"/>
<rect x="101.40" y="367.43" width="13.12" height="8.43" fill="#a3a9c9"/>
<rect x="113.82" y="367.43" width="13.12" height="8.43" fill="#d8dce8"/>
<rect x="126.24" y="367.43" width="12.42" height="8.43" fill="#6a72a0"/>
<rect x="275.28" y="367.43" width="12.42" height="8.43" fill="#8c93ba"/>
<rect x="132.45" y="375.15" width="155.25" height="8.43" fill="#f3f1f5"/>
<rect x="101.40" y="375.15" width="13.12" height="8.43" fill="#d8717a"/>
<rect x="113.82" y="375.15" width="13.12" height="8.43" fill="#b8232a"/>
<rect x="126.24" y="375.15" width="12.42" height="8.43" fill="#f3f1f5"/>
<rect x="132.45" y="382.88" width="155.25" height="7.73" fill="#a3a9c9"/>
<rect x="101.40" y="382.88" width="13.12" height="7.73" fill="#b8232a"/>
<rect x="113.82" y="382.88" width="13.12" height="7.73" fill="#dcdfe9"/>
<rect x="126.24" y="382.88" width="12.42" height="7.73" fill="#a3a9c9"/>
<text x="100.10" y="243.56" font-size="8.6" text-anchor="end" fill="#1a1a1a">GPRIN2</text>
<text x="100.10" y="251.29" font-size="8.6" text-anchor="end" fill="#1a1a1a">SLC7A14</text>
<text x="100.10" y="259.01" font-size="8.6" text-anchor="end" fill="#1a1a1a">PTPN5</text>
<text x="100.10" y="266.74" font-size="8.6" text-anchor="end" fill="#1a1a1a">SLC17A6</text>
<text x="100.10" y="274.46" font-size="8.6" text-anchor="end" fill="#1a1a1a">PNMA6F</text>
<text x="100.10" y="282.19" font-size="8.6" text-anchor="end" fill="#1a1a1a">GRIA4</text>
<text x="100.10" y="289.91" font-size="8.6" text-anchor="end" fill="#1a1a1a">GFRA2</text>
<text x="100.10" y="297.64" font-size="8.6" text-anchor="end" fill="#1a1a1a">MCC</text>
<text x="100.10" y="305.36" font-size="8.6" text-anchor="end" fill="#1a1a1a">GOLGA1</text>
<text x="100.10" y="313.09" font-size="8.6" text-anchor="end" fill="#1a1a1a">RIMS3</text>
<text x="100.10" y="320.81" font-size="8.6" text-anchor="end" fill="#1a1a1a">CCDC184</text>
<text x="100.10" y="328.54" font-size="8.6" text-anchor="end" fill="#1a1a1a">KIF26B</text>
<text x="100.10" y="336.26" font-size="8.6" text-anchor="end" fill="#1a1a1a">SLC6A9</text>
<text x="100.10" y="343.99" font-size="8.6" text-anchor="end" fill="#1a1a1a">MAB21L1</text>
<text x="100.10" y="351.71" font-size="8.6" text-anchor="end" fill="#1a1a1a">KCND2</text>
<text x="100.10" y="359.44" font-size="8.6" text-anchor="end" fill="#1a1a1a">SLC32A1</text>
<text x="100.10" y="367.16" font-size="8.6" text-anchor="end" fill="#1a1a1a">ME1</text>
<text x="100.10" y="374.89" font-size="8.6" text-anchor="end" fill="#1a1a1a">ARCL1</text>
<text x="100.10" y="382.61" font-size="8.6" text-anchor="end" fill="#1a1a1a">HOXA5</text>
<text x="100.10" y="390.34" font-size="8.6" text-anchor="end" fill="#1a1a1a">CDS1</text>
<rect x="101.40" y="230.30" width="37.26" height="2.60" fill="#d9c45e"/>
<rect x="138.66" y="230.30" width="37.26" height="2.60" fill="#4ea85a"/>
<rect x="175.92" y="230.30" width="37.26" height="2.60" fill="#2e6e40"/>
<rect x="213.18" y="230.30" width="37.26" height="2.60" fill="#2a6e72"/>
<rect x="250.44" y="230.30" width="37.26" height="2.60" fill="#2b78c3"/>
<text x="120.03" y="230.10" font-size="12.0" text-anchor="start" fill="#1a1a1a" transform="rotate(-45 120.03 230.10)">CB</text>
<text x="157.29" y="230.10" font-size="12.0" text-anchor="start" fill="#1a1a1a" transform="rotate(-45 157.29 230.10)">FL</text>
<text x="194.55" y="230.10" font-size="12.0" text-anchor="start" fill="#1a1a1a" transform="rotate(-45 194.55 230.10)">TL</text>
<text x="231.81" y="230.10" font-size="12.0" text-anchor="start" fill="#1a1a1a" transform="rotate(-45 231.81 230.10)">PL</text>
<text x="269.07" y="230.10" font-size="12.0" text-anchor="start" fill="#1a1a1a" transform="rotate(-45 269.07 230.10)">V1</text>
<text x="0" y="0" font-size="15.6" text-anchor="start" fill="#111" transform="translate(18.00 312.70) scale(0.946 1)">F50</text>
<defs><linearGradient id="g50" x1="0" y1="0" x2="0" y2="1"><stop offset="0" stop-color="#bd2a30"/><stop offset="0.25" stop-color="#dc8a90"/><stop offset="0.5" stop-color="#f4f2f6"/><stop offset="0.75" stop-color="#8890b8"/><stop offset="1" stop-color="#2c3470"/></linearGradient></defs>
<rect x="293.10" y="250.30" width="8.80" height="42.70" fill="url(#g50)"/>
<text x="0" y="0" font-size="9.4" text-anchor="start" fill="#222" transform="translate(305.00 256.60) scale(0.95 1)">2</text>
<text x="0" y="0" font-size="9.4" text-anchor="start" fill="#222" transform="translate(305.00 273.60) scale(0.95 1)">0</text>
<text x="0" y="0" font-size="9.4" text-anchor="start" fill="#222" transform="translate(304.80 291.00) scale(0.95 1)">−2</text>
<rect x="441.30" y="241.20" width="170.80" height="8.17" fill="#6a72a0"/>
<rect x="427.30" y="241.20" width="6.30" height="8.17" fill="#d8717a"/>
<rect x="432.90" y="241.20" width="6.30" height="8.17" fill="#e8a6ad"/>
<rect x="438.50" y="241.20" width="5.60" height="8.17" fill="#d8717a"/>
<rect x="441.30" y="248.67" width="170.80" height="8.17" fill="#6a72a0"/>
<rect x="427.30" y="248.67" width="6.30" height="8.17" fill="#b8232a"/>
<rect x="432.90" y="248.67" width="6.30" height="8.17" fill="#b8232a"/>
<rect x="438.50" y="248.67" width="5.60" height="8.17" fill="#b8232a"/>
<rect x="441.30" y="256.15" width="170.80" height="8.17" fill="#2c3370"/>
<rect x="427.30" y="256.15" width="6.30" height="8.17" fill="#e08a92"/>
<rect x="432.90" y="256.15" width="6.30" height="8.17" fill="#e8a6ad"/>
<rect x="438.50" y="256.15" width="5.60" height="8.17" fill="#e8a6ad"/>
<rect x="550.50" y="256.15" width="6.30" height="8.17" fill="#dcdfe9"/>
<rect x="441.30" y="263.62" width="170.80" height="8.17" fill="#6a72a0"/>
<rect x="427.30" y="263.62" width="6.30" height="8.17" fill="#c6434c"/>
<rect x="432.90" y="263.62" width="6.30" height="8.17" fill="#be3038"/>
<rect x="438.50" y="263.62" width="5.60" height="8.17" fill="#b8232a"/>
<rect x="595.30" y="263.62" width="6.30" height="8.17" fill="#a3a9c9"/>
<rect x="600.90" y="263.62" width="6.30" height="8.17" fill="#747ca8"/>
<rect x="606.50" y="263.62" width="5.60" height="8.17" fill="#747ca8"/>
<rect x="441.30" y="271.10" width="170.80" height="8.17" fill="#6a72a0"/>
<rect x="427.30" y="271.10" width="6.30" height="8.17" fill="#b8232a"/>
<rect x="432.90" y="271.10" width="6.30" height="8.17" fill="#b8232a"/>
<rect x="438.50" y="271.10" width="5.60" height="8.17" fill="#b8232a"/>
<rect x="600.90" y="271.10" width="6.30" height="8.17" fill="#8c93ba"/>
<rect x="606.50" y="271.10" width="5.60" height="8.17" fill="#a3a9c9"/>
<rect x="441.30" y="278.57" width="170.80" height="8.17" fill="#6a72a0"/>
<rect x="427.30" y="278.57" width="6.30" height="8.17" fill="#b8232a"/>
<rect x="432.90" y="278.57" width="6.30" height="8.17" fill="#b8232a"/>
<rect x="438.50" y="278.57" width="5.60" height="8.17" fill="#b8232a"/>
<rect x="595.30" y="278.57" width="6.30" height="8.17" fill="#dcdfe9"/>
<rect x="600.90" y="278.57" width="6.30" height="8.17" fill="#8088b0"/>
<rect x="606.50" y="278.57" width="5.60" height="8.17" fill="#8c93ba"/>
<rect x="441.30" y="286.05" width="170.80" height="8.17" fill="#6a72a0"/>
<rect x="427.30" y="286.05" width="6.30" height="8.17" fill="#cf5a63"/>
<rect x="432.90" y="286.05" width="6.30" height="8.17" fill="#b8232a"/>
<rect x="438.50" y="286.05" width="5.60" height="8.17" fill="#f0c6cb"/>
<rect x="595.30" y="286.05" width="6.30" height="8.17" fill="#c8cce0"/>
<rect x="600.90" y="286.05" width="6.30" height="8.17" fill="#8c93ba"/>
<rect x="606.50" y="286.05" width="5.60" height="8.17" fill="#747ca8"/>
<rect x="441.30" y="293.52" width="170.80" height="8.17" fill="#646c9c"/>
<rect x="427.30" y="293.52" width="6.30" height="8.17" fill="#b8232a"/>
<rect x="432.90" y="293.52" width="6.30" height="8.17" fill="#be3038"/>
<rect x="438.50" y="293.52" width="5.60" height="8.17" fill="#cf5a63"/>
<rect x="578.50" y="293.52" width="6.30" height="8.17" fill="#b8232a"/>
<rect x="595.30" y="293.52" width="6.30" height="8.17" fill="#e8eaf0"/>
<rect x="441.30" y="301.00" width="170.80" height="8.17" fill="#646c9c"/>
<rect x="427.30" y="301.00" width="6.30" height="8.17" fill="#b8232a"/>
<rect x="432.90" y="301.00" width="6.30" height="8.17" fill="#b8232a"/>
<rect x="438.50" y="301.00" width="5.60" height="8.17" fill="#b8232a"/>
<rect x="449.70" y="301.00" width="6.30" height="8.17" fill="#f3f1f5"/>
<rect x="600.90" y="301.00" width="6.30" height="8.17" fill="#f4eaea"/>
<rect x="606.50" y="301.00" width="5.60" height="8.17" fill="#f4eaea"/>
<rect x="441.30" y="308.47" width="170.80" height="8.17" fill="#6a72a0"/>
<rect x="427.30" y="308.47" width="6.30" height="8.17" fill="#b8232a"/>
<rect x="432.90" y="308.47" width="6.30" height="8.17" fill="#b8232a"/>
<rect x="438.50" y="308.47" width="5.60" height="8.17" fill="#b8232a"/>
<rect x="578.50" y="308.47" width="6.30" height="8.17" fill="#d8717a"/>
<rect x="584.10" y="308.47" width="6.30" height="8.17" fill="#a3a9c9"/>
<rect x="595.30" y="308.47" width="6.30" height="8.17" fill="#dcdfe9"/>
<rect x="441.30" y="315.95" width="170.80" height="8.17" fill="#6a72a0"/>
<rect x="427.30" y="315.95" width="6.30" height="8.17" fill="#b8232a"/>
<rect x="432.90" y="315.95" width="6.30" height="8.17" fill="#b8232a"/>
<rect x="438.50" y="315.95" width="5.60" height="8.17" fill="#b8232a"/>
<rect x="522.50" y="315.95" width="6.30" height="8.17" fill="#f4d8d8"/>
<rect x="533.70" y="315.95" width="6.30" height="8.17" fill="#b8232a"/>
<rect x="550.50" y="315.95" width="6.30" height="8.17" fill="#dcdfe9"/>
<rect x="572.90" y="315.95" width="6.30" height="8.17" fill="#f0c6cb"/>
<rect x="441.30" y="323.42" width="170.80" height="8.17" fill="#646c9c"/>
<rect x="427.30" y="323.42" width="6.30" height="8.17" fill="#b8232a"/>
<rect x="432.90" y="323.42" width="6.30" height="8.17" fill="#b8232a"/>
<rect x="438.50" y="323.42" width="5.60" height="8.17" fill="#b8232a"/>
<rect x="444.10" y="323.42" width="6.30" height="8.17" fill="#8088b0"/>
<rect x="578.50" y="323.42" width="6.30" height="8.17" fill="#8c93ba"/>
<rect x="584.10" y="323.42" width="6.30" height="8.17" fill="#8c93ba"/>
<rect x="589.70" y="323.42" width="6.30" height="8.17" fill="#8c93ba"/>
<rect x="595.30" y="323.42" width="6.30" height="8.17" fill="#a3a9c9"/>
<rect x="441.30" y="330.90" width="170.80" height="8.17" fill="#5e6798"/>
<rect x="427.30" y="330.90" width="6.30" height="8.17" fill="#e8a6ad"/>
<rect x="432.90" y="330.90" width="6.30" height="8.17" fill="#b8232a"/>
<rect x="438.50" y="330.90" width="5.60" height="8.17" fill="#be3038"/>
<rect x="477.70" y="330.90" width="6.30" height="8.17" fill="#dcdfe9"/>
<rect x="578.50" y="330.90" width="6.30" height="8.17" fill="#dcdfe9"/>
<rect x="589.70" y="330.90" width="6.30" height="8.17" fill="#f6e2e4"/>
<rect x="595.30" y="330.90" width="6.30" height="8.17" fill="#f0c6cb"/>
<rect x="606.50" y="330.90" width="5.60" height="8.17" fill="#f6e2e4"/>
<rect x="441.30" y="338.38" width="170.80" height="8.17" fill="#454d86"/>
<rect x="427.30" y="338.38" width="6.30" height="8.17" fill="#b8232a"/>
<rect x="432.90" y="338.38" width="6.30" height="8.17" fill="#b8232a"/>
<rect x="438.50" y="338.38" width="5.60" height="8.17" fill="#b8232a"/>
<rect x="460.90" y="338.38" width="6.30" height="8.17" fill="#f3f1f5"/>
<rect x="578.50" y="338.38" width="6.30" height="8.17" fill="#d8717a"/>
<rect x="584.10" y="338.38" width="6.30" height="8.17" fill="#d8717a"/>
<rect x="589.70" y="338.38" width="6.30" height="8.17" fill="#be3038"/>
<rect x="595.30" y="338.38" width="6.30" height="8.17" fill="#e8a6ad"/>
<rect x="441.30" y="345.85" width="170.80" height="8.17" fill="#5e6798"/>
<rect x="427.30" y="345.85" width="6.30" height="8.17" fill="#b8232a"/>
<rect x="432.90" y="345.85" width="6.30" height="8.17" fill="#b8232a"/>
<rect x="438.50" y="345.85" width="5.60" height="8.17" fill="#b8232a"/>
<rect x="477.70" y="345.85" width="6.30" height="8.17" fill="#c8cce0"/>
<rect x="578.50" y="345.85" width="6.30" height="8.17" fill="#b8232a"/>
<rect x="584.10" y="345.85" width="6.30" height="8.17" fill="#6a72a0"/>
<rect x="589.70" y="345.85" width="6.30" height="8.17" fill="#a3a9c9"/>
<rect x="595.30" y="345.85" width="6.30" height="8.17" fill="#c8cce0"/>
<rect x="600.90" y="345.85" width="6.30" height="8.17" fill="#c8cce0"/>
<rect x="606.50" y="345.85" width="5.60" height="8.17" fill="#dcdfe9"/>
<rect x="441.30" y="353.32" width="170.80" height="8.17" fill="#5e6798"/>
<rect x="427.30" y="353.32" width="6.30" height="8.17" fill="#b8232a"/>
<rect x="432.90" y="353.32" width="6.30" height="8.17" fill="#b8232a"/>
<rect x="438.50" y="353.32" width="5.60" height="8.17" fill="#b8232a"/>
<rect x="444.10" y="353.32" width="6.30" height="8.17" fill="#dcdfe9"/>
<rect x="460.90" y="353.32" width="6.30" height="8.17" fill="#a3a9c9"/>
<rect x="578.50" y="353.32" width="6.30" height="8.17" fill="#b8232a"/>
<rect x="584.10" y="353.32" width="6.30" height="8.17" fill="#a3a9c9"/>
<rect x="589.70" y="353.32" width="6.30" height="8.17" fill="#f6e2e4"/>
<rect x="595.30" y="353.32" width="6.30" height="8.17" fill="#f3f1f5"/>
<rect x="600.90" y="353.32" width="6.30" height="8.17" fill="#6a72a0"/>
<rect x="441.30" y="360.80" width="170.80" height="8.17" fill="#5e6798"/>
<rect x="427.30" y="360.80" width="6.30" height="8.17" fill="#be3038"/>
<rect x="432.90" y="360.80" width="6.30" height="8.17" fill="#c6434c"/>
<rect x="438.50" y="360.80" width="5.60" height="8.17" fill="#b8232a"/>
<rect x="460.90" y="360.80" width="6.30" height="8.17" fill="#f0c6cb"/>
<rect x="584.10" y="360.80" width="6.30" height="8.17" fill="#a3a9c9"/>
<rect x="589.70" y="360.80" width="6.30" height="8.17" fill="#b8232a"/>
<rect x="595.30" y="360.80" width="6.30" height="8.17" fill="#f3f1f5"/>
<rect x="600.90" y="360.80" width="6.30" height="8.17" fill="#f0c6cb"/>
<rect x="441.30" y="368.27" width="170.80" height="8.17" fill="#646c9c"/>
<rect x="427.30" y="368.27" width="6.30" height="8.17" fill="#c8cce0"/>
<rect x="432.90" y="368.27" width="6.30" height="8.17" fill="#dcdfe9"/>
<rect x="438.50" y="368.27" width="5.60" height="8.17" fill="#c8cce0"/>
<rect x="578.50" y="368.27" width="6.30" height="8.17" fill="#f0c6cb"/>
<rect x="595.30" y="368.27" width="6.30" height="8.17" fill="#a3a9c9"/>
<rect x="441.30" y="375.75" width="170.80" height="8.17" fill="#50588e"/>
<rect x="427.30" y="375.75" width="6.30" height="8.17" fill="#b8232a"/>
<rect x="432.90" y="375.75" width="6.30" height="8.17" fill="#b8232a"/>
<rect x="438.50" y="375.75" width="5.60" height="8.17" fill="#b8232a"/>
<rect x="578.50" y="375.75" width="6.30" height="8.17" fill="#f6e2e4"/>
<rect x="584.10" y="375.75" width="6.30" height="8.17" fill="#8088b0"/>
<rect x="595.30" y="375.75" width="6.30" height="8.17" fill="#f3f1f5"/>
<rect x="600.90" y="375.75" width="6.30" height="8.17" fill="#6a72a0"/>
<rect x="441.30" y="383.23" width="170.80" height="7.47" fill="#575f93"/>
<rect x="427.30" y="383.23" width="6.30" height="7.47" fill="#e08a92"/>
<rect x="432.90" y="383.23" width="6.30" height="7.47" fill="#e08a92"/>
<rect x="438.50" y="383.23" width="5.60" height="7.47" fill="#d8717a"/>
<rect x="483.30" y="383.23" width="6.30" height="7.47" fill="#a3a9c9"/>
<rect x="488.90" y="383.23" width="6.30" height="7.47" fill="#f3f1f5"/>
<rect x="561.70" y="383.23" width="6.30" height="7.47" fill="#a3a9c9"/>
<rect x="567.30" y="383.23" width="6.30" height="7.47" fill="#a3a9c9"/>
<rect x="595.30" y="383.23" width="6.30" height="7.47" fill="#f0c6cb"/>
<rect x="600.90" y="383.23" width="6.30" height="7.47" fill="#d8717a"/>
<rect x="606.50" y="383.23" width="5.60" height="7.47" fill="#f3f1f5"/>
<text x="424.50" y="248.54" font-size="8.6" text-anchor="end" fill="#1a1a1a">CTNNA3</text>
<text x="424.50" y="256.01" font-size="8.6" text-anchor="end" fill="#1a1a1a">ESRRG</text>
<text x="424.50" y="263.49" font-size="8.6" text-anchor="end" fill="#1a1a1a">DDX43</text>
<text x="424.50" y="270.96" font-size="8.6" text-anchor="end" fill="#1a1a1a">MAB21L1</text>
<text x="424.50" y="278.44" font-size="8.6" text-anchor="end" fill="#1a1a1a">CBLN1</text>
<text x="424.50" y="285.91" font-size="8.6" text-anchor="end" fill="#1a1a1a">ZIC2</text>
<text x="424.50" y="293.39" font-size="8.6" text-anchor="end" fill="#1a1a1a">HSD11B2</text>
<text x="424.50" y="300.86" font-size="8.6" text-anchor="end" fill="#1a1a1a">RCN3</text>
<text x="424.50" y="308.34" font-size="8.6" text-anchor="end" fill="#1a1a1a">BCHE</text>
<text x="424.50" y="315.81" font-size="8.6" text-anchor="end" fill="#1a1a1a">ISLR</text>
<text x="424.50" y="323.29" font-size="8.6" text-anchor="end" fill="#1a1a1a">FSTL4</text>
<text x="424.50" y="330.76" font-size="8.6" text-anchor="end" fill="#1a1a1a">NGFR</text>
<text x="424.50" y="338.24" font-size="8.6" text-anchor="end" fill="#1a1a1a">HEPH</text>
<text x="424.50" y="345.71" font-size="8.6" text-anchor="end" fill="#1a1a1a">TGFBI</text>
<text x="424.50" y="353.19" font-size="8.6" text-anchor="end" fill="#1a1a1a">DES</text>
<text x="424.50" y="360.66" font-size="8.6" text-anchor="end" fill="#1a1a1a">DAB2</text>
<text x="424.50" y="368.14" font-size="8.6" text-anchor="end" fill="#1a1a1a">ZNF423</text>
<text x="424.50" y="375.61" font-size="8.6" text-anchor="end" fill="#1a1a1a">ENPP6</text>
<text x="424.50" y="383.09" font-size="8.6" text-anchor="end" fill="#1a1a1a">PGM5</text>
<text x="424.50" y="390.56" font-size="8.6" text-anchor="end" fill="#1a1a1a">SCIN</text>
<rect x="427.30" y="235.20" width="16.80" height="2.60" fill="#d9c45e"/>
<rect x="444.10" y="235.20" width="67.20" height="2.60" fill="#4ea85a"/>
<rect x="511.30" y="235.20" width="16.80" height="2.60" fill="#2e6e40"/>
<rect x="528.10" y="235.20" width="16.80" height="2.60" fill="#2a6e72"/>
<rect x="544.90" y="235.20" width="16.80" height="2.60" fill="#2b78c3"/>
<rect x="561.70" y="235.20" width="16.80" height="2.60" fill="#f08a3c"/>
<rect x="578.50" y="235.20" width="16.80" height="2.60" fill="#e26048"/>
<rect x="595.30" y="235.20" width="16.80" height="2.60" fill="#b8203e"/>
<text x="437.90" y="235.50" font-size="12.0" text-anchor="start" fill="#1a1a1a" transform="rotate(-45 437.90 235.50)">CB</text>
<text x="480.10" y="235.50" font-size="12.0" text-anchor="start" fill="#1a1a1a" transform="rotate(-45 480.10 235.50)">FL</text>
<text x="522.10" y="235.50" font-size="12.0" text-anchor="start" fill="#1a1a1a" transform="rotate(-45 522.10 235.50)">TL</text>
<text x="538.50" y="235.50" font-size="12.0" text-anchor="start" fill="#1a1a1a" transform="rotate(-45 538.50 235.50)">PL</text>
<text x="555.00" y="235.50" font-size="12.0" text-anchor="start" fill="#1a1a1a" transform="rotate(-45 555.00 235.50)">V1</text>
<text x="572.60" y="235.50" font-size="12.0" text-anchor="start" fill="#1a1a1a" transform="rotate(-45 572.60 235.50)">STr</text>
<text x="589.70" y="235.50" font-size="12.0" text-anchor="start" fill="#1a1a1a" transform="rotate(-45 589.70 235.50)">Hipp</text>
<text x="605.70" y="235.50" font-size="12.0" text-anchor="start" fill="#1a1a1a" transform="rotate(-45 605.70 235.50)">Amy</text>
<text x="0" y="0" font-size="15.6" text-anchor="start" fill="#111" transform="translate(355.60 311.90) scale(0.946 1)">F90</text>
<defs><linearGradient id="g90" x1="0" y1="0" x2="0" y2="1"><stop offset="0" stop-color="#bd2a30"/><stop offset="0.2" stop-color="#d8747c"/><stop offset="0.41" stop-color="#f4f2f6"/><stop offset="0.7" stop-color="#8890b8"/><stop offset="1" stop-color="#2c3470"/></linearGradient></defs>
<rect x="616.90" y="252.40" width="8.60" height="43.80" fill="url(#g90)"/>
<text x="0" y="0" font-size="9.4" text-anchor="start" fill="#222" transform="translate(628.30 260.20) scale(0.95 1)">2</text>
<text x="0" y="0" font-size="9.4" text-anchor="start" fill="#222" transform="translate(628.30 273.30) scale(0.95 1)">1</text>
<text x="0" y="0" font-size="9.4" text-anchor="start" fill="#222" transform="translate(628.30 285.60) scale(0.95 1)">0</text>
<rect x="107.06" y="436.00" width="182.44" height="8.44" fill="#3f4781"/>
<rect x="98.20" y="436.00" width="4.24" height="8.44" fill="#cf5a63"/>
<rect x="101.74" y="436.00" width="4.24" height="8.44" fill="#b8232a"/>
<rect x="105.29" y="436.00" width="3.54" height="8.44" fill="#b8232a"/>
<rect x="107.06" y="443.74" width="182.44" height="8.44" fill="#454d86"/>
<rect x="98.20" y="443.74" width="4.24" height="8.44" fill="#b8232a"/>
<rect x="101.74" y="443.74" width="4.24" height="8.44" fill="#b8232a"/>
<rect x="105.29" y="443.74" width="3.54" height="8.44" fill="#b8232a"/>
<rect x="107.06" y="451.47" width="182.44" height="8.44" fill="#3f4781"/>
<rect x="98.20" y="451.47" width="4.24" height="8.44" fill="#b8232a"/>
<rect x="101.74" y="451.47" width="4.24" height="8.44" fill="#b8232a"/>
<rect x="105.29" y="451.47" width="3.54" height="8.44" fill="#e8a6ad"/>
<rect x="107.06" y="459.20" width="182.44" height="8.44" fill="#454d86"/>
<rect x="98.20" y="459.20" width="4.24" height="8.44" fill="#b8232a"/>
<rect x="101.74" y="459.20" width="4.24" height="8.44" fill="#b8232a"/>
<rect x="105.29" y="459.20" width="3.54" height="8.44" fill="#b8232a"/>
<rect x="107.06" y="466.94" width="182.44" height="8.44" fill="#454d86"/>
<rect x="98.20" y="466.94" width="4.24" height="8.44" fill="#b8232a"/>
<rect x="101.74" y="466.94" width="4.24" height="8.44" fill="#b8232a"/>
<rect x="105.29" y="466.94" width="3.54" height="8.44" fill="#b8232a"/>
<rect x="107.06" y="474.68" width="182.44" height="8.44" fill="#4a528a"/>
<rect x="98.20" y="474.68" width="4.24" height="8.44" fill="#b8232a"/>
<rect x="101.74" y="474.68" width="4.24" height="8.44" fill="#b8232a"/>
<rect x="105.29" y="474.68" width="3.54" height="8.44" fill="#b8232a"/>
<rect x="254.07" y="474.68" width="4.24" height="8.44" fill="#a3a9c9"/>
<rect x="107.06" y="482.41" width="182.44" height="8.44" fill="#50588e"/>
<rect x="98.20" y="482.41" width="4.24" height="8.44" fill="#f6e2e4"/>
<rect x="101.74" y="482.41" width="4.24" height="8.44" fill="#f3f1f5"/>
<rect x="105.29" y="482.41" width="3.54" height="8.44" fill="#be3038"/>
<rect x="158.42" y="482.41" width="4.24" height="8.44" fill="#5e6798"/>
<rect x="107.06" y="490.15" width="182.44" height="8.44" fill="#3f4781"/>
<rect x="98.20" y="490.15" width="4.24" height="8.44" fill="#b8232a"/>
<rect x="101.74" y="490.15" width="4.24" height="8.44" fill="#4a5a98"/>
<rect x="105.29" y="490.15" width="3.54" height="8.44" fill="#e8a6ad"/>
<rect x="107.06" y="497.88" width="182.44" height="8.44" fill="#4a528a"/>
<rect x="98.20" y="497.88" width="4.24" height="8.44" fill="#4a5a98"/>
<rect x="101.74" y="497.88" width="4.24" height="8.44" fill="#b8232a"/>
<rect x="105.29" y="497.88" width="3.54" height="8.44" fill="#b8232a"/>
<rect x="107.06" y="505.62" width="182.44" height="8.44" fill="#454d86"/>
<rect x="98.20" y="505.62" width="4.24" height="8.44" fill="#b8232a"/>
<rect x="101.74" y="505.62" width="4.24" height="8.44" fill="#b8232a"/>
<rect x="105.29" y="505.62" width="3.54" height="8.44" fill="#e8a6ad"/>
<rect x="161.97" y="505.62" width="4.24" height="8.44" fill="#f4d8d8"/>
<rect x="282.41" y="505.62" width="4.24" height="8.44" fill="#a3a9c9"/>
<rect x="107.06" y="513.35" width="182.44" height="8.44" fill="#2c3370"/>
<rect x="98.20" y="513.35" width="4.24" height="8.44" fill="#f0c6cb"/>
<rect x="101.74" y="513.35" width="4.24" height="8.44" fill="#e8a6ad"/>
<rect x="105.29" y="513.35" width="3.54" height="8.44" fill="#d8717a"/>
<rect x="108.83" y="513.35" width="4.24" height="8.44" fill="#4a528a"/>
<rect x="112.37" y="513.35" width="4.24" height="8.44" fill="#6a72a0"/>
<rect x="165.51" y="513.35" width="4.24" height="8.44" fill="#6a72a0"/>
<rect x="107.06" y="521.09" width="182.44" height="8.44" fill="#454d86"/>
<rect x="98.20" y="521.09" width="4.24" height="8.44" fill="#b8232a"/>
<rect x="101.74" y="521.09" width="4.24" height="8.44" fill="#b8232a"/>
<rect x="105.29" y="521.09" width="3.54" height="8.44" fill="#b8232a"/>
<rect x="208.02" y="521.09" width="4.24" height="8.44" fill="#f3f1f5"/>
<rect x="261.16" y="521.09" width="4.24" height="8.44" fill="#f3f1f5"/>
<rect x="107.06" y="528.82" width="182.44" height="8.44" fill="#3f4781"/>
<rect x="98.20" y="528.82" width="4.24" height="8.44" fill="#d8717a"/>
<rect x="101.74" y="528.82" width="4.24" height="8.44" fill="#b8232a"/>
<rect x="105.29" y="528.82" width="3.54" height="8.44" fill="#b8232a"/>
<rect x="144.25" y="528.82" width="4.24" height="8.44" fill="#b8232a"/>
<rect x="158.42" y="528.82" width="4.24" height="8.44" fill="#f0c6cb"/>
<rect x="107.06" y="536.56" width="182.44" height="8.44" fill="#4a528a"/>
<rect x="98.20" y="536.56" width="4.24" height="8.44" fill="#b8232a"/>
<rect x="101.74" y="536.56" width="4.24" height="8.44" fill="#b8232a"/>
<rect x="105.29" y="536.56" width="3.54" height="8.44" fill="#b8232a"/>
<rect x="239.90" y="536.56" width="4.24" height="8.44" fill="#d8717a"/>
<rect x="243.45" y="536.56" width="4.24" height="8.44" fill="#b8232a"/>
<rect x="107.06" y="544.29" width="182.44" height="8.44" fill="#4a528a"/>
<rect x="98.20" y="544.29" width="4.24" height="8.44" fill="#b8232a"/>
<rect x="101.74" y="544.29" width="4.24" height="8.44" fill="#b8232a"/>
<rect x="105.29" y="544.29" width="3.54" height="8.44" fill="#b8232a"/>
<rect x="278.87" y="544.29" width="4.24" height="8.44" fill="#e8a6ad"/>
<rect x="282.41" y="544.29" width="4.24" height="8.44" fill="#f6e2e4"/>
<rect x="285.96" y="544.29" width="3.54" height="8.44" fill="#f0d8d8"/>
<rect x="107.06" y="552.03" width="182.44" height="8.44" fill="#454d86"/>
<rect x="98.20" y="552.03" width="4.24" height="8.44" fill="#f0c6cb"/>
<rect x="101.74" y="552.03" width="4.24" height="8.44" fill="#b8232a"/>
<rect x="105.29" y="552.03" width="3.54" height="8.44" fill="#b8232a"/>
<rect x="179.68" y="552.03" width="4.24" height="8.44" fill="#a3a9c9"/>
<rect x="193.85" y="552.03" width="4.24" height="8.44" fill="#8088b0"/>
<rect x="285.96" y="552.03" width="3.54" height="8.44" fill="#c8cce0"/>
<rect x="107.06" y="559.76" width="182.44" height="8.44" fill="#393f7c"/>
<rect x="98.20" y="559.76" width="4.24" height="8.44" fill="#b8232a"/>
<rect x="101.74" y="559.76" width="4.24" height="8.44" fill="#b8232a"/>
<rect x="105.29" y="559.76" width="3.54" height="8.44" fill="#b8232a"/>
<rect x="172.59" y="559.76" width="4.24" height="8.44" fill="#a3a9c9"/>
<rect x="257.62" y="559.76" width="4.24" height="8.44" fill="#a3a9c9"/>
<rect x="282.41" y="559.76" width="4.24" height="8.44" fill="#6a72a0"/>
<rect x="107.06" y="567.50" width="182.44" height="8.44" fill="#454d86"/>
<rect x="98.20" y="567.50" width="4.24" height="8.44" fill="#b8232a"/>
<rect x="101.74" y="567.50" width="4.24" height="8.44" fill="#b8232a"/>
<rect x="105.29" y="567.50" width="3.54" height="8.44" fill="#b8232a"/>
<rect x="229.28" y="567.50" width="4.24" height="8.44" fill="#f3f1f5"/>
<rect x="271.79" y="567.50" width="4.24" height="8.44" fill="#f3f1f5"/>
<rect x="282.41" y="567.50" width="4.24" height="8.44" fill="#8088b0"/>
<rect x="107.06" y="575.23" width="182.44" height="8.44" fill="#50588e"/>
<rect x="98.20" y="575.23" width="4.24" height="8.44" fill="#b8232a"/>
<rect x="101.74" y="575.23" width="4.24" height="8.44" fill="#b8232a"/>
<rect x="105.29" y="575.23" width="3.54" height="8.44" fill="#b8232a"/>
<rect x="190.31" y="575.23" width="4.24" height="8.44" fill="#d8717a"/>
<rect x="254.07" y="575.23" width="4.24" height="8.44" fill="#b8232a"/>
<rect x="268.24" y="575.23" width="4.24" height="8.44" fill="#be3038"/>
<rect x="107.06" y="582.97" width="182.44" height="7.74" fill="#454d86"/>
<rect x="98.20" y="582.97" width="4.24" height="7.74" fill="#b8232a"/>
<rect x="101.74" y="582.97" width="4.24" height="7.74" fill="#a3a9c9"/>
<rect x="105.29" y="582.97" width="3.54" height="7.74" fill="#a3a9c9"/>
<rect x="179.68" y="582.97" width="4.24" height="7.74" fill="#b8232a"/>
<rect x="197.39" y="582.97" width="4.24" height="7.74" fill="#e8a6ad"/>
<rect x="204.48" y="582.97" width="4.24" height="7.74" fill="#f6e2e4"/>
<text x="95.40" y="443.47" font-size="8.6" text-anchor="end" fill="#1a1a1a">RCN3</text>
<text x="95.40" y="451.20" font-size="8.6" text-anchor="end" fill="#1a1a1a">ZIC2</text>
<text x="95.40" y="458.94" font-size="8.6" text-anchor="end" fill="#1a1a1a">ZNF687</text>
<text x="95.40" y="466.67" font-size="8.6" text-anchor="end" fill="#1a1a1a">MAB21L1</text>
<text x="95.40" y="474.41" font-size="8.6" text-anchor="end" fill="#1a1a1a">EBF1</text>
<text x="95.40" y="482.14" font-size="8.6" text-anchor="end" fill="#1a1a1a">CTNNA3</text>
<text x="95.40" y="489.88" font-size="8.6" text-anchor="end" fill="#1a1a1a">PCP2</text>
<text x="95.40" y="497.61" font-size="8.6" text-anchor="end" fill="#1a1a1a">ZKSCAN8</text>
<text x="95.40" y="505.35" font-size="8.6" text-anchor="end" fill="#1a1a1a">ZIC1</text>
<text x="95.40" y="513.08" font-size="8.6" text-anchor="end" fill="#1a1a1a">EPS8L2</text>
<text x="95.40" y="520.82" font-size="8.6" text-anchor="end" fill="#1a1a1a">CASP2</text>
<text x="95.40" y="528.55" font-size="8.6" text-anchor="end" fill="#1a1a1a">ZNF536</text>
<text x="95.40" y="536.29" font-size="8.6" text-anchor="end" fill="#1a1a1a">INSM1</text>
<text x="95.40" y="544.02" font-size="8.6" text-anchor="end" fill="#1a1a1a">ESRRG</text>
<text x="95.40" y="551.76" font-size="8.6" text-anchor="end" fill="#1a1a1a">HSD11B2</text>
<text x="95.40" y="559.49" font-size="8.6" text-anchor="end" fill="#1a1a1a">DAB2</text>
<text x="95.40" y="567.23" font-size="8.6" text-anchor="end" fill="#1a1a1a">ZNF423</text>
<text x="95.40" y="574.96" font-size="8.6" text-anchor="end" fill="#1a1a1a">BCHE</text>
<text x="95.40" y="582.70" font-size="8.6" text-anchor="end" fill="#1a1a1a">KLHL36</text>
<text x="95.40" y="590.43" font-size="8.6" text-anchor="end" fill="#1a1a1a">CEP76</text>
<rect x="98.20" y="430.30" width="10.63" height="2.60" fill="#d9c45e"/>
<rect x="108.83" y="430.30" width="74.39" height="2.60" fill="#4ea85a"/>
<rect x="183.22" y="430.30" width="31.88" height="2.60" fill="#2e6e40"/>
<rect x="215.11" y="430.30" width="21.26" height="2.60" fill="#2a6e72"/>
<rect x="236.36" y="430.30" width="10.63" height="2.60" fill="#2b78c3"/>
<rect x="246.99" y="430.30" width="10.63" height="2.60" fill="#f08a3c"/>
<rect x="257.62" y="430.30" width="10.63" height="2.60" fill="#e26048"/>
<rect x="268.24" y="430.30" width="10.63" height="2.60" fill="#b8203e"/>
<rect x="278.87" y="430.30" width="10.63" height="2.60" fill="#7a1a3c"/>
<text x="103.51" y="430.10" font-size="12.0" text-anchor="start" fill="#1a1a1a" transform="rotate(-45 103.51 430.10)">CB</text>
<text x="143.62" y="430.10" font-size="12.0" text-anchor="start" fill="#1a1a1a" transform="rotate(-45 143.62 430.10)">FL</text>
<text x="199.16" y="430.10" font-size="12.0" text-anchor="start" fill="#1a1a1a" transform="rotate(-45 199.16 430.10)">TL</text>
<text x="223.23" y="430.10" font-size="12.0" text-anchor="start" fill="#1a1a1a" transform="rotate(-45 223.23 430.10)">PL</text>
<text x="239.08" y="430.10" font-size="12.0" text-anchor="start" fill="#1a1a1a" transform="rotate(-45 239.08 430.10)">V1</text>
<text x="252.30" y="430.10" font-size="12.0" text-anchor="start" fill="#1a1a1a" transform="rotate(-45 252.30 430.10)">STr</text>
<text x="265.93" y="430.10" font-size="12.0" text-anchor="start" fill="#1a1a1a" transform="rotate(-45 265.93 430.10)">Hipp</text>
<text x="279.56" y="430.10" font-size="12.0" text-anchor="start" fill="#1a1a1a" transform="rotate(-45 279.56 430.10)">MD</text>
<text x="292.19" y="430.10" font-size="12.0" text-anchor="start" fill="#1a1a1a" transform="rotate(-45 292.19 430.10)">Amy</text>
<text x="0" y="0" font-size="15.6" text-anchor="start" fill="#111" transform="translate(17.80 510.30) scale(0.946 1)">F120</text>
<defs><linearGradient id="g120" x1="0" y1="0" x2="0" y2="1"><stop offset="0" stop-color="#bd2a30"/><stop offset="0.25" stop-color="#dc8a90"/><stop offset="0.52" stop-color="#f4f2f6"/><stop offset="0.75" stop-color="#8890b8"/><stop offset="1" stop-color="#2c3470"/></linearGradient></defs>
<rect x="296.40" y="450.30" width="10.40" height="53.30" fill="url(#g120)"/>
<text x="310.70" y="454.60" font-size="9.1" text-anchor="start" fill="#222">2.5</text>
<text x="310.70" y="463.38" font-size="9.1" text-anchor="start" fill="#222">2.0</text>
<text x="310.70" y="472.16" font-size="9.1" text-anchor="start" fill="#222">1.5</text>
<text x="310.70" y="480.94" font-size="9.1" text-anchor="start" fill="#222">1.0</text>
<text x="310.70" y="489.72" font-size="9.1" text-anchor="start" fill="#222">0.5</text>
<text x="310.70" y="498.50" font-size="9.1" text-anchor="start" fill="#222">0.0</text>
<text x="310.20" y="507.28" font-size="9.1" text-anchor="start" fill="#222">−0.5</text>
<rect x="437.34" y="436.00" width="180.06" height="8.34" fill="#50588e"/>
<rect x="428.60" y="436.00" width="4.20" height="8.34" fill="#b8232a"/>
<rect x="432.10" y="436.00" width="4.20" height="8.34" fill="#b8232a"/>
<rect x="435.59" y="436.00" width="3.50" height="8.34" fill="#b8232a"/>
<rect x="437.34" y="443.63" width="180.06" height="8.34" fill="#50588e"/>
<rect x="428.60" y="443.63" width="4.20" height="8.34" fill="#b8232a"/>
<rect x="432.10" y="443.63" width="4.20" height="8.34" fill="#b8232a"/>
<rect x="435.59" y="443.63" width="3.50" height="8.34" fill="#b8232a"/>
<rect x="437.34" y="451.27" width="180.06" height="8.34" fill="#50588e"/>
<rect x="428.60" y="451.27" width="4.20" height="8.34" fill="#b8232a"/>
<rect x="432.10" y="451.27" width="4.20" height="8.34" fill="#b8232a"/>
<rect x="435.59" y="451.27" width="3.50" height="8.34" fill="#b8232a"/>
<rect x="437.34" y="458.91" width="180.06" height="8.34" fill="#454d86"/>
<rect x="428.60" y="458.91" width="4.20" height="8.34" fill="#b8232a"/>
<rect x="432.10" y="458.91" width="4.20" height="8.34" fill="#b8232a"/>
<rect x="435.59" y="458.91" width="3.50" height="8.34" fill="#b8232a"/>
<rect x="437.34" y="466.54" width="180.06" height="8.34" fill="#4a528a"/>
<rect x="428.60" y="466.54" width="4.20" height="8.34" fill="#e8a6ad"/>
<rect x="432.10" y="466.54" width="4.20" height="8.34" fill="#b8232a"/>
<rect x="435.59" y="466.54" width="3.50" height="8.34" fill="#b8232a"/>
<rect x="613.90" y="466.54" width="3.50" height="8.34" fill="#6a72a0"/>
<rect x="437.34" y="474.18" width="180.06" height="8.34" fill="#50588e"/>
<rect x="428.60" y="474.18" width="4.20" height="8.34" fill="#b8232a"/>
<rect x="432.10" y="474.18" width="4.20" height="8.34" fill="#b8232a"/>
<rect x="435.59" y="474.18" width="3.50" height="8.34" fill="#b8232a"/>
<rect x="488.04" y="474.18" width="4.20" height="8.34" fill="#e07068"/>
<rect x="437.34" y="481.81" width="180.06" height="8.34" fill="#4a528a"/>
<rect x="428.60" y="481.81" width="4.20" height="8.34" fill="#b8232a"/>
<rect x="432.10" y="481.81" width="4.20" height="8.34" fill="#b8232a"/>
<rect x="435.59" y="481.81" width="3.50" height="8.34" fill="#b8232a"/>
<rect x="606.91" y="481.81" width="4.20" height="8.34" fill="#f3f1f5"/>
<rect x="437.34" y="489.44" width="180.06" height="8.34" fill="#393f7c"/>
<rect x="428.60" y="489.44" width="4.20" height="8.34" fill="#e8eaf0"/>
<rect x="432.10" y="489.44" width="4.20" height="8.34" fill="#f0c6cb"/>
<rect x="435.59" y="489.44" width="3.50" height="8.34" fill="#dcdfe9"/>
<rect x="557.96" y="489.44" width="4.20" height="8.34" fill="#8088b0"/>
<rect x="437.34" y="497.08" width="180.06" height="8.34" fill="#4a528a"/>
<rect x="428.60" y="497.08" width="4.20" height="8.34" fill="#b8232a"/>
<rect x="432.10" y="497.08" width="4.20" height="8.34" fill="#b8232a"/>
<rect x="435.59" y="497.08" width="3.50" height="8.34" fill="#b8232a"/>
<rect x="571.95" y="497.08" width="4.20" height="8.34" fill="#c8cce0"/>
<rect x="437.34" y="504.72" width="180.06" height="8.34" fill="#50588e"/>
<rect x="428.60" y="504.72" width="4.20" height="8.34" fill="#b8232a"/>
<rect x="432.10" y="504.72" width="4.20" height="8.34" fill="#b8232a"/>
<rect x="435.59" y="504.72" width="3.50" height="8.34" fill="#b8232a"/>
<rect x="463.56" y="504.72" width="4.20" height="8.34" fill="#a3a9c9"/>
<rect x="498.53" y="504.72" width="4.20" height="8.34" fill="#a3a9c9"/>
<rect x="437.34" y="512.35" width="180.06" height="8.34" fill="#50588e"/>
<rect x="428.60" y="512.35" width="4.20" height="8.34" fill="#b8232a"/>
<rect x="432.10" y="512.35" width="4.20" height="8.34" fill="#b8232a"/>
<rect x="435.59" y="512.35" width="3.50" height="8.34" fill="#b8232a"/>
<rect x="460.07" y="512.35" width="4.20" height="8.34" fill="#a3a9c9"/>
<rect x="437.34" y="519.99" width="180.06" height="8.34" fill="#50588e"/>
<rect x="428.60" y="519.99" width="4.20" height="8.34" fill="#b8232a"/>
<rect x="432.10" y="519.99" width="4.20" height="8.34" fill="#b8232a"/>
<rect x="435.59" y="519.99" width="3.50" height="8.34" fill="#b8232a"/>
<rect x="484.54" y="519.99" width="4.20" height="8.34" fill="#6a72a0"/>
<rect x="596.42" y="519.99" width="4.20" height="8.34" fill="#a3a9c9"/>
<rect x="437.34" y="527.62" width="180.06" height="8.34" fill="#2c3370"/>
<rect x="428.60" y="527.62" width="4.20" height="8.34" fill="#e8a6ad"/>
<rect x="432.10" y="527.62" width="4.20" height="8.34" fill="#e8a6ad"/>
<rect x="435.59" y="527.62" width="3.50" height="8.34" fill="#d8717a"/>
<rect x="585.93" y="527.62" width="4.20" height="8.34" fill="#f0c6cb"/>
<rect x="610.41" y="527.62" width="4.20" height="8.34" fill="#f6e2e4"/>
<rect x="437.34" y="535.25" width="180.06" height="8.34" fill="#50588e"/>
<rect x="428.60" y="535.25" width="4.20" height="8.34" fill="#b8232a"/>
<rect x="432.10" y="535.25" width="4.20" height="8.34" fill="#b8232a"/>
<rect x="435.59" y="535.25" width="3.50" height="8.34" fill="#b8232a"/>
<rect x="463.56" y="535.25" width="4.20" height="8.34" fill="#f3f1f5"/>
<rect x="613.90" y="535.25" width="3.50" height="8.34" fill="#dcdfe9"/>
<rect x="437.34" y="542.89" width="180.06" height="8.34" fill="#454d86"/>
<rect x="428.60" y="542.89" width="4.20" height="8.34" fill="#b8232a"/>
<rect x="432.10" y="542.89" width="4.20" height="8.34" fill="#b8232a"/>
<rect x="435.59" y="542.89" width="3.50" height="8.34" fill="#b8232a"/>
<rect x="564.96" y="542.89" width="4.20" height="8.34" fill="#c8cce0"/>
<rect x="568.45" y="542.89" width="4.20" height="8.34" fill="#e8a6ad"/>
<rect x="437.34" y="550.53" width="180.06" height="8.34" fill="#50588e"/>
<rect x="428.60" y="550.53" width="4.20" height="8.34" fill="#b8232a"/>
<rect x="432.10" y="550.53" width="4.20" height="8.34" fill="#b8232a"/>
<rect x="435.59" y="550.53" width="3.50" height="8.34" fill="#b8232a"/>
<rect x="554.47" y="550.53" width="4.20" height="8.34" fill="#b8232a"/>
<rect x="568.45" y="550.53" width="4.20" height="8.34" fill="#e08a92"/>
<rect x="437.34" y="558.16" width="180.06" height="8.34" fill="#50588e"/>
<rect x="428.60" y="558.16" width="4.20" height="8.34" fill="#b8232a"/>
<rect x="432.10" y="558.16" width="4.20" height="8.34" fill="#b8232a"/>
<rect x="435.59" y="558.16" width="3.50" height="8.34" fill="#b8232a"/>
<rect x="460.07" y="558.16" width="4.20" height="8.34" fill="#5e6798"/>
<rect x="498.53" y="558.16" width="4.20" height="8.34" fill="#575f93"/>
<rect x="437.34" y="565.80" width="180.06" height="8.34" fill="#4a528a"/>
<rect x="428.60" y="565.80" width="4.20" height="8.34" fill="#b8232a"/>
<rect x="432.10" y="565.80" width="4.20" height="8.34" fill="#b8232a"/>
<rect x="435.59" y="565.80" width="3.50" height="8.34" fill="#b8232a"/>
<rect x="498.53" y="565.80" width="4.20" height="8.34" fill="#6a72a0"/>
<rect x="509.01" y="565.80" width="4.20" height="8.34" fill="#a3a9c9"/>
<rect x="613.90" y="565.80" width="3.50" height="8.34" fill="#8088b0"/>
<rect x="437.34" y="573.43" width="180.06" height="8.34" fill="#3f4781"/>
<rect x="428.60" y="573.43" width="4.20" height="8.34" fill="#b8232a"/>
<rect x="432.10" y="573.43" width="4.20" height="8.34" fill="#b8232a"/>
<rect x="435.59" y="573.43" width="3.50" height="8.34" fill="#b8232a"/>
<rect x="585.93" y="573.43" width="4.20" height="8.34" fill="#f0c6cb"/>
<rect x="606.91" y="573.43" width="4.20" height="8.34" fill="#f3f1f5"/>
<rect x="613.90" y="573.43" width="3.50" height="8.34" fill="#d8717a"/>
<rect x="437.34" y="581.07" width="180.06" height="7.64" fill="#4a528a"/>
<rect x="428.60" y="581.07" width="4.20" height="7.64" fill="#b8232a"/>
<rect x="432.10" y="581.07" width="4.20" height="7.64" fill="#b8232a"/>
<rect x="435.59" y="581.07" width="3.50" height="7.64" fill="#b8232a"/>
<rect x="592.93" y="581.07" width="4.20" height="7.64" fill="#8088b0"/>
<rect x="606.91" y="581.07" width="4.20" height="7.64" fill="#e8a6ad"/>
<rect x="610.41" y="581.07" width="4.20" height="7.64" fill="#f0c6cb"/>
<rect x="613.90" y="581.07" width="3.50" height="7.64" fill="#f0c6cb"/>
<text x="426.30" y="443.42" font-size="8.6" text-anchor="end" fill="#1a1a1a">CDH15</text>
<text x="426.30" y="451.05" font-size="8.6" text-anchor="end" fill="#1a1a1a">SKI</text>
<text x="426.30" y="458.69" font-size="8.6" text-anchor="end" fill="#1a1a1a">ZIC1</text>
<text x="426.30" y="466.32" font-size="8.6" text-anchor="end" fill="#1a1a1a">PDE3A</text>
<text x="426.30" y="473.96" font-size="8.6" text-anchor="end" fill="#1a1a1a">ZIC2</text>
<text x="426.30" y="481.59" font-size="8.6" text-anchor="end" fill="#1a1a1a">CBLN3</text>
<text x="426.30" y="489.23" font-size="8.6" text-anchor="end" fill="#1a1a1a">APOBEC2</text>
<text x="426.30" y="496.86" font-size="8.6" text-anchor="end" fill="#1a1a1a">RCN3</text>
<text x="426.30" y="504.50" font-size="8.6" text-anchor="end" fill="#1a1a1a">SHF</text>
<text x="426.30" y="512.13" font-size="8.6" text-anchor="end" fill="#1a1a1a">CEP76</text>
<text x="426.30" y="519.77" font-size="8.6" text-anchor="end" fill="#1a1a1a">EPS8L2</text>
<text x="426.30" y="527.40" font-size="8.6" text-anchor="end" fill="#1a1a1a">GABRA6</text>
<text x="426.30" y="535.04" font-size="8.6" text-anchor="end" fill="#1a1a1a">MTRR</text>
<text x="426.30" y="542.67" font-size="8.6" text-anchor="end" fill="#1a1a1a">RAB37</text>
<text x="426.30" y="550.31" font-size="8.6" text-anchor="end" fill="#1a1a1a">ESRRG</text>
<text x="426.30" y="557.94" font-size="8.6" text-anchor="end" fill="#1a1a1a">GRM6</text>
<text x="426.30" y="565.58" font-size="8.6" text-anchor="end" fill="#1a1a1a">PCP2</text>
<text x="426.30" y="573.21" font-size="8.6" text-anchor="end" fill="#1a1a1a">CTNNA3</text>
<text x="426.30" y="580.85" font-size="8.6" text-anchor="end" fill="#1a1a1a">SPAG1</text>
<text x="426.30" y="588.48" font-size="8.6" text-anchor="end" fill="#1a1a1a">GRID2IP</text>
<rect x="428.60" y="429.80" width="10.49" height="2.60" fill="#d9c45e"/>
<rect x="439.09" y="429.80" width="73.42" height="2.60" fill="#4ea85a"/>
<rect x="512.51" y="429.80" width="31.47" height="2.60" fill="#2e6e40"/>
<rect x="543.98" y="429.80" width="20.98" height="2.60" fill="#2a6e72"/>
<rect x="564.96" y="429.80" width="10.49" height="2.60" fill="#2b78c3"/>
<rect x="575.44" y="429.80" width="10.49" height="2.60" fill="#f08a3c"/>
<rect x="585.93" y="429.80" width="10.49" height="2.60" fill="#e26048"/>
<rect x="596.42" y="429.80" width="10.49" height="2.60" fill="#b8203e"/>
<rect x="606.91" y="429.80" width="10.49" height="2.60" fill="#7a1a3c"/>
<text x="433.84" y="429.60" font-size="12.0" text-anchor="start" fill="#1a1a1a" transform="rotate(-45 433.84 429.60)">CB</text>
<text x="478.30" y="429.60" font-size="12.0" text-anchor="start" fill="#1a1a1a" transform="rotate(-45 478.30 429.60)">FL</text>
<text x="528.24" y="429.60" font-size="12.0" text-anchor="start" fill="#1a1a1a" transform="rotate(-45 528.24 429.60)">TL</text>
<text x="550.07" y="429.60" font-size="12.0" text-anchor="start" fill="#1a1a1a" transform="rotate(-45 550.07 429.60)">PL</text>
<text x="565.20" y="429.60" font-size="12.0" text-anchor="start" fill="#1a1a1a" transform="rotate(-45 565.20 429.60)">V1</text>
<text x="577.49" y="429.60" font-size="12.0" text-anchor="start" fill="#1a1a1a" transform="rotate(-45 577.49 429.60)">STr</text>
<text x="591.18" y="429.60" font-size="12.0" text-anchor="start" fill="#1a1a1a" transform="rotate(-45 591.18 429.60)">Hipp</text>
<text x="606.37" y="429.60" font-size="12.0" text-anchor="start" fill="#1a1a1a" transform="rotate(-45 606.37 429.60)">MD</text>
<text x="618.16" y="429.60" font-size="12.0" text-anchor="start" fill="#1a1a1a" transform="rotate(-45 618.16 429.60)">Amy</text>
<text x="0" y="0" font-size="15.6" text-anchor="start" fill="#111" transform="translate(355.60 510.90) scale(0.946 1)">P3</text>
<defs><linearGradient id="gP3" x1="0" y1="0" x2="0" y2="1"><stop offset="0" stop-color="#bd2a30"/><stop offset="0.25" stop-color="#dc8a90"/><stop offset="0.52" stop-color="#f4f2f6"/><stop offset="0.75" stop-color="#8890b8"/><stop offset="1" stop-color="#2c3470"/></linearGradient></defs>
<rect x="621.80" y="451.00" width="10.10" height="52.90" fill="url(#gP3)"/>
<text x="635.70" y="453.30" font-size="9.1" text-anchor="start" fill="#222">2.5</text>
<text x="635.70" y="462.05" font-size="9.1" text-anchor="start" fill="#222">2.0</text>
<text x="635.70" y="470.80" font-size="9.1" text-anchor="start" fill="#222">1.5</text>
<text x="635.70" y="479.55" font-size="9.1" text-anchor="start" fill="#222">1.0</text>
<text x="635.70" y="488.30" font-size="9.1" text-anchor="start" fill="#222">0.5</text>
<text x="635.70" y="497.05" font-size="9.1" text-anchor="start" fill="#222">0.0</text>
<text x="635.70" y="505.80" font-size="9.1" text-anchor="start" fill="#222">−0.5</text>
<rect x="67.90" y="613.50" width="210.70" height="190.90" fill="none" stroke="#555" stroke-width="0.9"/>
<line x1="65.70" y1="796.30" x2="67.90" y2="796.30" stroke="#555" stroke-width="0.8"/>
<text x="64.70" y="799.30" font-size="8.8" text-anchor="end" fill="#222">0</text>
<line x1="65.70" y1="750.70" x2="67.90" y2="750.70" stroke="#555" stroke-width="0.8"/>
<text x="64.70" y="753.70" font-size="8.8" text-anchor="end" fill="#222">2</text>
<line x1="65.70" y1="705.10" x2="67.90" y2="705.10" stroke="#555" stroke-width="0.8"/>
<text x="64.70" y="708.10" font-size="8.8" text-anchor="end" fill="#222">4</text>
<line x1="65.70" y1="659.50" x2="67.90" y2="659.50" stroke="#555" stroke-width="0.8"/>
<text x="64.70" y="662.50" font-size="8.8" text-anchor="end" fill="#222">6</text>
<line x1="65.70" y1="613.90" x2="67.90" y2="613.90" stroke="#555" stroke-width="0.8"/>
<text x="64.70" y="616.90" font-size="8.8" text-anchor="end" fill="#222">8</text>
<line x1="97.80" y1="804.40" x2="97.80" y2="806.60" stroke="#555" stroke-width="0.8"/>
<text x="97.80" y="814.00" font-size="8.8" text-anchor="middle" fill="#222">F50</text>
<line x1="148.20" y1="804.40" x2="148.20" y2="806.60" stroke="#555" stroke-width="0.8"/>
<text x="148.20" y="814.00" font-size="8.8" text-anchor="middle" fill="#222">F90</text>
<line x1="198.20" y1="804.40" x2="198.20" y2="806.60" stroke="#555" stroke-width="0.8"/>
<text x="198.20" y="814.00" font-size="8.8" text-anchor="middle" fill="#222">F120</text>
<line x1="248.30" y1="804.40" x2="248.30" y2="806.60" stroke="#555" stroke-width="0.8"/>
<text x="248.30" y="814.00" font-size="8.8" text-anchor="middle" fill="#222">P3</text>
<text x="48.10" y="711.90" font-size="10.2" text-anchor="middle" fill="#1a1a1a" transform="rotate(-90 48.10 711.90)">Mean Log<tspan font-size="6.5" dy="2.2">10</tspan><tspan dy="-2.2"> (protein abundance)</tspan></text>
<polyline points="88.80,796.30 139.00,691.80 188.60,666.30 239.00,641.30" fill="none" stroke="#3a74b8" stroke-width="0.8"/>
<circle cx="88.80" cy="796.30" r="1.2" fill="#3a74b8"/>
<circle cx="139.00" cy="690.50" r="1.2" fill="#3a74b8"/>
<circle cx="139.00" cy="692.00" r="1.2" fill="#3a74b8"/>
<circle cx="139.00" cy="693.20" r="1.2" fill="#3a74b8"/>
<circle cx="188.60" cy="661.50" r="1.2" fill="#3a74b8"/>
<circle cx="188.60" cy="667.20" r="1.2" fill="#3a74b8"/>
<circle cx="188.60" cy="671.20" r="1.2" fill="#3a74b8"/>
<circle cx="239.00" cy="637.60" r="1.2" fill="#3a74b8"/>
<circle cx="239.00" cy="640.30" r="1.2" fill="#3a74b8"/>
<circle cx="239.00" cy="646.00" r="1.2" fill="#3a74b8"/>
<polyline points="94.80,796.30 145.20,796.30 195.30,688.00 245.70,664.50" fill="none" stroke="#4aa84a" stroke-width="0.8"/>
<circle cx="94.80" cy="796.30" r="1.2" fill="#4aa84a"/>
<circle cx="145.20" cy="796.30" r="1.2" fill="#4aa84a"/>
<circle cx="195.30" cy="684.80" r="1.2" fill="#4aa84a"/>
<circle cx="195.30" cy="689.00" r="1.2" fill="#4aa84a"/>
<circle cx="195.30" cy="690.30" r="1.2" fill="#4aa84a"/>
<circle cx="245.70" cy="662.80" r="1.2" fill="#4aa84a"/>
<circle cx="245.70" cy="664.00" r="1.2" fill="#4aa84a"/>
<circle cx="245.70" cy="664.80" r="1.2" fill="#4aa84a"/>
<polyline points="101.00,680.60 151.30,647.00 201.70,633.60 252.10,621.80" fill="none" stroke="#7fcdc6" stroke-width="0.8"/>
<circle cx="101.00" cy="678.60" r="1.2" fill="#7fcdc6"/>
<circle cx="101.00" cy="682.60" r="1.2" fill="#7fcdc6"/>
<circle cx="151.30" cy="645.50" r="1.2" fill="#7fcdc6"/>
<circle cx="151.30" cy="647.50" r="1.2" fill="#7fcdc6"/>
<circle cx="201.70" cy="632.50" r="1.2" fill="#7fcdc6"/>
<circle cx="201.70" cy="634.50" r="1.2" fill="#7fcdc6"/>
<circle cx="252.10" cy="621.80" r="1.2" fill="#7fcdc6"/>
<polyline points="107.80,796.30 157.50,698.00 207.80,727.00 258.10,666.50" fill="none" stroke="#d9383a" stroke-width="0.8"/>
<circle cx="107.80" cy="796.30" r="1.2" fill="#d9383a"/>
<circle cx="157.50" cy="695.40" r="1.2" fill="#d9383a"/>
<circle cx="157.50" cy="696.70" r="1.2" fill="#d9383a"/>
<circle cx="157.50" cy="699.90" r="1.2" fill="#d9383a"/>
<circle cx="207.80" cy="690.30" r="1.2" fill="#d9383a"/>
<circle cx="207.80" cy="695.10" r="1.2" fill="#d9383a"/>
<circle cx="207.80" cy="796.20" r="1.2" fill="#d9383a"/>
<circle cx="258.10" cy="661.50" r="1.2" fill="#d9383a"/>
<circle cx="258.10" cy="664.80" r="1.2" fill="#d9383a"/>
<circle cx="258.10" cy="669.80" r="1.2" fill="#d9383a"/>
<text x="165.80" y="636.80" font-size="8.8" text-anchor="middle" fill="#7fcdc6">ITPR1</text>
<text x="166.80" y="670.40" font-size="8.8" text-anchor="middle" fill="#3a74b8">PCP2</text>
<text x="221.20" y="670.40" font-size="8.8" text-anchor="middle" fill="#4aa84a">PVALB</text>
<text x="246.40" y="705.60" font-size="8.8" text-anchor="middle" fill="#d9383a">GRID2IP</text>
<text x="285.10" y="658.40" font-size="8.6" text-anchor="start" fill="#1a1a1a">Significance</text>
<line x1="286.10" y1="669.50" x2="295.30" y2="669.50" stroke="#333" stroke-width="0.9"/>
<text x="300.40" y="672.80" font-size="9.3" text-anchor="start" fill="#1a1a1a">Yes</text>
<line x1="286.10" y1="681.00" x2="295.30" y2="681.00" stroke="#444" stroke-width="0.8" stroke-dasharray="1.8,1.1"/>
<text x="300.40" y="684.30" font-size="9.3" text-anchor="start" fill="#1a1a1a">No</text>
<line x1="286.10" y1="708.30" x2="295.30" y2="708.30" stroke="#3a74b8" stroke-width="0.9" stroke-opacity="0.75"/>
<circle cx="291.10" cy="708.30" r="1.35" fill="#3a74b8"/>
<text x="300.30" y="711.40" font-size="8.8" text-anchor="start" fill="#1a1a1a">PCP2</text>
<line x1="286.10" y1="720.20" x2="295.30" y2="720.20" stroke="#4aa84a" stroke-width="0.9" stroke-opacity="0.75"/>
<circle cx="291.10" cy="720.20" r="1.35" fill="#4aa84a"/>
<text x="300.30" y="723.30" font-size="8.8" text-anchor="start" fill="#1a1a1a">PVALB</text>
<line x1="286.10" y1="729.70" x2="295.30" y2="729.70" stroke="#7fcdc6" stroke-width="0.9" stroke-opacity="0.75"/>
<circle cx="291.10" cy="729.70" r="1.35" fill="#7fcdc6"/>
<text x="300.30" y="732.80" font-size="8.8" text-anchor="start" fill="#1a1a1a">ITPR1</text>
<line x1="286.10" y1="742.50" x2="295.30" y2="742.50" stroke="#d9383a" stroke-width="0.9" stroke-opacity="0.75"/>
<circle cx="291.10" cy="742.50" r="1.35" fill="#d9383a"/>
<text x="300.30" y="745.60" font-size="8.8" text-anchor="start" fill="#1a1a1a">GRID2IP</text>
<rect x="416.30" y="613.30" width="210.10" height="191.10" fill="none" stroke="#555" stroke-width="0.9"/>
<line x1="414.10" y1="796.30" x2="416.30" y2="796.30" stroke="#555" stroke-width="0.8"/>
<text x="413.10" y="799.30" font-size="8.8" text-anchor="end" fill="#222">0</text>
<line x1="414.10" y1="744.70" x2="416.30" y2="744.70" stroke="#555" stroke-width="0.8"/>
<text x="413.10" y="747.70" font-size="8.8" text-anchor="end" fill="#222">2</text>
<line x1="414.10" y1="693.10" x2="416.30" y2="693.10" stroke="#555" stroke-width="0.8"/>
<text x="413.10" y="696.10" font-size="8.8" text-anchor="end" fill="#222">4</text>
<line x1="414.10" y1="641.50" x2="416.30" y2="641.50" stroke="#555" stroke-width="0.8"/>
<text x="413.10" y="644.50" font-size="8.8" text-anchor="end" fill="#222">6</text>
<line x1="446.40" y1="804.40" x2="446.40" y2="806.60" stroke="#555" stroke-width="0.8"/>
<text x="446.40" y="814.00" font-size="8.8" text-anchor="middle" fill="#222">F50</text>
<line x1="496.40" y1="804.40" x2="496.40" y2="806.60" stroke="#555" stroke-width="0.8"/>
<text x="496.40" y="814.00" font-size="8.8" text-anchor="middle" fill="#222">F90</text>
<line x1="546.20" y1="804.40" x2="546.20" y2="806.60" stroke="#555" stroke-width="0.8"/>
<text x="546.20" y="814.00" font-size="8.8" text-anchor="middle" fill="#222">F120</text>
<line x1="595.80" y1="804.40" x2="595.80" y2="806.60" stroke="#555" stroke-width="0.8"/>
<text x="595.80" y="814.00" font-size="8.8" text-anchor="middle" fill="#222">P3</text>
<text x="398.00" y="711.70" font-size="10.2" text-anchor="middle" fill="#1a1a1a" transform="rotate(-90 398.00 711.70)">Mean Log<tspan font-size="6.5" dy="2.2">10</tspan><tspan dy="-2.2"> (protein abundance)</tspan></text>
<polyline points="436.00,796.20 486.00,796.20 536.00,725.00 586.00,659.00" fill="none" stroke="#3a74b8" stroke-width="0.8"/>
<circle cx="436.00" cy="796.20" r="1.2" fill="#3a74b8"/>
<circle cx="486.00" cy="796.20" r="1.2" fill="#3a74b8"/>
<circle cx="536.00" cy="683.70" r="1.2" fill="#3a74b8"/>
<circle cx="536.00" cy="687.00" r="1.2" fill="#3a74b8"/>
<circle cx="536.00" cy="796.20" r="1.2" fill="#3a74b8"/>
<circle cx="586.00" cy="655.40" r="1.2" fill="#3a74b8"/>
<circle cx="586.00" cy="658.00" r="1.2" fill="#3a74b8"/>
<circle cx="586.00" cy="661.60" r="1.2" fill="#3a74b8"/>
<polyline points="441.00,635.40 491.20,631.20 541.40,624.80 591.00,626.20" fill="none" stroke="#4aa84a" stroke-width="0.8"/>
<circle cx="441.00" cy="632.90" r="1.2" fill="#4aa84a"/>
<circle cx="441.00" cy="635.40" r="1.2" fill="#4aa84a"/>
<circle cx="441.00" cy="637.10" r="1.2" fill="#4aa84a"/>
<circle cx="491.20" cy="631.20" r="1.2" fill="#4aa84a"/>
<circle cx="541.40" cy="623.20" r="1.2" fill="#4aa84a"/>
<circle cx="541.40" cy="625.80" r="1.2" fill="#4aa84a"/>
<circle cx="591.00" cy="621.60" r="1.2" fill="#4aa84a"/>
<circle cx="591.00" cy="625.50" r="1.2" fill="#4aa84a"/>
<circle cx="591.00" cy="627.00" r="1.2" fill="#4aa84a"/>
<polyline points="446.10,642.20 496.10,635.40 546.20,631.20 595.90,627.80" fill="none" stroke="#7fcdc6" stroke-width="0.8"/>
<circle cx="446.10" cy="635.80" r="1.2" fill="#7fcdc6"/>
<circle cx="446.10" cy="645.60" r="1.2" fill="#7fcdc6"/>
<circle cx="446.10" cy="646.80" r="1.2" fill="#7fcdc6"/>
<circle cx="496.10" cy="635.40" r="1.2" fill="#7fcdc6"/>
<circle cx="546.20" cy="629.80" r="1.2" fill="#7fcdc6"/>
<circle cx="546.20" cy="632.80" r="1.2" fill="#7fcdc6"/>
<circle cx="595.90" cy="627.80" r="1.2" fill="#7fcdc6"/>
<polyline points="451.20,796.20 500.70,712.10 550.90,706.90 600.70,664.00" fill="none" stroke="#d9383a" stroke-width="0.8"/>
<circle cx="451.20" cy="796.20" r="1.2" fill="#d9383a"/>
<circle cx="500.70" cy="668.20" r="1.2" fill="#d9383a"/>
<circle cx="500.70" cy="671.80" r="1.2" fill="#d9383a"/>
<circle cx="500.70" cy="796.20" r="1.2" fill="#d9383a"/>
<circle cx="550.90" cy="661.40" r="1.2" fill="#d9383a"/>
<circle cx="550.90" cy="664.00" r="1.2" fill="#d9383a"/>
<circle cx="550.90" cy="796.20" r="1.2" fill="#d9383a"/>
<circle cx="600.70" cy="662.00" r="1.2" fill="#d9383a"/>
<circle cx="600.70" cy="664.00" r="1.2" fill="#d9383a"/>
<circle cx="600.70" cy="666.00" r="1.2" fill="#d9383a"/>
<polyline points="456.20,796.20 506.40,796.20 555.80,796.20 606.10,650.00" fill="none" stroke="#f08a3c" stroke-width="0.8"/>
<circle cx="456.20" cy="796.20" r="1.2" fill="#f08a3c"/>
<circle cx="506.40" cy="796.20" r="1.2" fill="#f08a3c"/>
<circle cx="555.80" cy="796.20" r="1.2" fill="#f08a3c"/>
<circle cx="606.10" cy="650.00" r="1.2" fill="#f08a3c"/>
<circle cx="606.10" cy="653.50" r="1.2" fill="#f08a3c"/>
<text x="513.40" y="625.70" font-size="8.8" text-anchor="middle" fill="#4aa84a">CALB2</text>
<text x="529.30" y="644.50" font-size="8.8" text-anchor="middle" fill="#7fcdc6">RELN</text>
<text x="524.20" y="706.50" font-size="8.8" text-anchor="middle" fill="#d9383a">ZIC1</text>
<text x="544.00" y="740.60" font-size="8.8" text-anchor="middle" fill="#3a74b8">CDH15</text>
<text x="602.80" y="725.50" font-size="8.8" text-anchor="middle" fill="#f08a3c">GABRA6</text>
<text x="633.80" y="658.40" font-size="8.6" text-anchor="start" fill="#1a1a1a">Significance</text>
<line x1="634.80" y1="669.50" x2="644.00" y2="669.50" stroke="#333" stroke-width="0.9"/>
<text x="649.10" y="672.80" font-size="9.3" text-anchor="start" fill="#1a1a1a">Yes</text>
<line x1="634.80" y1="681.00" x2="644.00" y2="681.00" stroke="#444" stroke-width="0.8" stroke-dasharray="1.8,1.1"/>
<text x="649.10" y="684.30" font-size="9.3" text-anchor="start" fill="#1a1a1a">No</text>
<line x1="634.80" y1="708.30" x2="644.00" y2="708.30" stroke="#3a74b8" stroke-width="0.9" stroke-opacity="0.75"/>
<circle cx="639.80" cy="708.30" r="1.35" fill="#3a74b8"/>
<text x="649.00" y="711.40" font-size="8.8" text-anchor="start" fill="#1a1a1a">CDH15</text>
<line x1="634.80" y1="719.40" x2="644.00" y2="719.40" stroke="#4aa84a" stroke-width="0.9" stroke-opacity="0.75"/>
<circle cx="639.80" cy="719.40" r="1.35" fill="#4aa84a"/>
<text x="649.00" y="722.50" font-size="8.8" text-anchor="start" fill="#1a1a1a">CALB2</text>
<line x1="634.80" y1="729.60" x2="644.00" y2="729.60" stroke="#7fcdc6" stroke-width="0.9" stroke-opacity="0.75"/>
<circle cx="639.80" cy="729.60" r="1.35" fill="#7fcdc6"/>
<text x="649.00" y="732.70" font-size="8.8" text-anchor="start" fill="#1a1a1a">RELN</text>
<line x1="634.80" y1="740.70" x2="644.00" y2="740.70" stroke="#d9383a" stroke-width="0.9" stroke-opacity="0.75"/>
<circle cx="639.80" cy="740.70" r="1.35" fill="#d9383a"/>
<text x="649.00" y="743.80" font-size="8.8" text-anchor="start" fill="#1a1a1a">ZIC1</text>
<line x1="634.80" y1="751.70" x2="644.00" y2="751.70" stroke="#f08a3c" stroke-width="0.9" stroke-opacity="0.75"/>
<circle cx="639.80" cy="751.70" r="1.35" fill="#f08a3c"/>
<text x="649.00" y="754.80" font-size="8.8" text-anchor="start" fill="#1a1a1a">GABRA6</text>
</svg>
</body></html>
